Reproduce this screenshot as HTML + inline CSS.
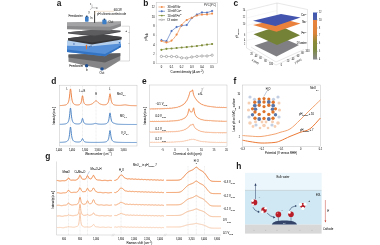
<!DOCTYPE html>
<html><head><meta charset="utf-8"><style>
html,body{margin:0;padding:0;background:#fff;width:380px;height:245px;overflow:hidden}
svg{display:block;will-change:transform}
text{font-family:"Liberation Sans",sans-serif}
</style></head><body>
<svg width="380" height="245" viewBox="0 0 380 245">
<rect width="380" height="245" fill="#fff"/>
<text x="56.8" y="6.2" font-size="8.4" fill="#1a1a1a"  text-anchor="start" font-weight="bold"  >a</text>
<text x="143.3" y="6.2" font-size="8.4" fill="#1a1a1a"  text-anchor="start" font-weight="bold"  >b</text>
<text x="233.6" y="6.2" font-size="8.4" fill="#1a1a1a"  text-anchor="start" font-weight="bold"  >c</text>
<text x="51.3" y="84.0" font-size="8.4" fill="#1a1a1a"  text-anchor="start" font-weight="bold"  >d</text>
<text x="142.0" y="84.0" font-size="8.4" fill="#1a1a1a"  text-anchor="start" font-weight="bold"  >e</text>
<text x="233.6" y="84.0" font-size="8.4" fill="#1a1a1a"  text-anchor="start" font-weight="bold"  >f</text>
<text x="45.3" y="158.8" font-size="8.4" fill="#1a1a1a"  text-anchor="start" font-weight="bold"  >g</text>
<text x="236.3" y="169.0" font-size="8.4" fill="#1a1a1a"  text-anchor="start" font-weight="bold"  >h</text>
<polygon points="68.50,54.60 120.30,53.30 120.30,60.30 105.00,69.80 68.50,61.80" fill="#858587" stroke="none" stroke-width="0.5" />
<polygon points="68.50,54.60 120.30,53.30 120.30,56.00 105.00,62.60 68.50,57.40" fill="#5e5e60" stroke="none" stroke-width="0.5" />
<polygon points="67.00,40.80 121.00,40.50 121.00,47.00 105.00,56.30 67.00,52.00" fill="#5590d8" stroke="none" stroke-width="0.5" />
<polygon points="67.00,40.80 121.00,40.50 121.00,43.50 92.00,46.20 67.00,45.80" fill="#b4cfee" stroke="none" stroke-width="0.5" />
<polygon points="67.00,49.60 105.00,54.00 121.00,45.60 121.00,47.00 105.00,56.30 67.00,52.00" fill="#3474c4" stroke="none" stroke-width="0.5" />
<rect x="85.9" y="46.0" width="1.1" height="3.3" fill="#e8742f"/>
<polygon points="85.2,46.2 87.7,46.2 86.45,44.5" fill="#e8742f"/>
<path d="M89,47 q1.5,-1.5 3,-1" stroke="#2d3b5e" stroke-width="0.5" fill="none"/>
<rect x="73.5" y="43.2" width="0.9" height="1.6" fill="#3559a8"/>
<circle cx="119.5" cy="42.8" r="0.8" fill="#2c62b0"/><circle cx="119.5" cy="46.8" r="0.8" fill="#2c62b0"/>
<polygon points="68.00,38.30 100.00,34.30 121.50,37.00 121.50,39.50 92.00,44.50 68.00,40.50" fill="#333336" stroke="none" stroke-width="0.5" />
<polygon points="68.00,38.30 100.00,34.30 121.50,37.00 121.50,38.20 92.00,42.50 68.00,39.40" fill="#444447" stroke="none" stroke-width="0.5" />
<polygon points="68.00,32.30 100.00,29.30 120.50,30.80 120.50,32.00 95.00,36.50 68.00,33.40" fill="#4a4a4d" stroke="none" stroke-width="0.5" />
<polygon points="68.00,32.30 100.00,29.30 120.50,30.80 120.50,31.30 95.00,35.40 68.00,33.00" fill="#5d5d60" stroke="none" stroke-width="0.5" />
<polygon points="67.00,22.50 121.00,21.50 121.00,26.20 110.00,30.40 67.00,29.20" fill="#8a8a8c" stroke="none" stroke-width="0.5" />
<polygon points="67.00,22.50 121.00,21.50 121.00,23.40 110.00,26.80 67.00,25.90" fill="#a3a3a5" stroke="none" stroke-width="0.5" />
<rect x="85" y="16.6" width="3.6" height="5.2" rx="0.7" fill="#3d7ec9"/>
<rect x="86.1" y="15.6" width="1.4" height="1.3" fill="#16304f"/>
<rect x="102.3" y="19.4" width="4.2" height="4.8" rx="0.7" fill="#3d7ec9"/>
<rect x="103.7" y="18.6" width="1.4" height="1.3" fill="#16304f"/>
<ellipse cx="86.6" cy="65.8" rx="1.7" ry="1.7" fill="#1f4f91"/>
<ellipse cx="102" cy="68.9" rx="1.8" ry="1.7" fill="#1f4f91"/>
<rect x="94" y="11" width="1.1" height="12" fill="#4a4a4a"/>
<line x1="95" y1="11.3" x2="114" y2="11.3" stroke="#e8cfb0" stroke-width="0.6" />
<line x1="95" y1="11.3" x2="95" y2="14.5" stroke="#e8cfb0" stroke-width="0.6" />
<line x1="92" y1="7.8" x2="92" y2="4.5" stroke="#444" stroke-width="0.3" />
<line x1="92" y1="7.8" x2="96" y2="7.8" stroke="#444" stroke-width="0.3" />
<line x1="92" y1="7.8" x2="90" y2="10" stroke="#444" stroke-width="0.3" />
<text x="90" y="5.5" font-size="2.4" fill="#3a3a3a" stroke="#3a3a3a" stroke-width="0.05" text-anchor="start" font-weight="normal" transform="matrix(1 0 0 1.28 0 -1.540)" >z</text>
<text x="96.3" y="8.8" font-size="2.4" fill="#3a3a3a" stroke="#3a3a3a" stroke-width="0.05" text-anchor="start" font-weight="normal" transform="matrix(1 0 0 1.28 0 -2.464)" >x</text>
<text x="88.4" y="13.4" font-size="2.4" fill="#3a3a3a" stroke="#3a3a3a" stroke-width="0.05" text-anchor="start" font-weight="normal" transform="matrix(1 0 0 1.28 0 -3.752)" >y</text>
<text x="113.8" y="11.2" font-size="2.9" fill="#3a3a3a" stroke="#3a3a3a" stroke-width="0.05" text-anchor="start" font-weight="normal" transform="matrix(1 0 0 1.28 0 -3.136)" >60CW</text>
<text x="97" y="15.4" font-size="2.9" fill="#3a3a3a" stroke="#3a3a3a" stroke-width="0.05" text-anchor="start" font-weight="normal" transform="matrix(1 0 0 1.28 0 -4.312)" >pH ultramicroelectrode</text>
<text x="68.5" y="17.1" font-size="3.0" fill="#3a3a3a" stroke="#3a3a3a" stroke-width="0.05" text-anchor="start" font-weight="normal" transform="matrix(1 0 0 1.28 0 -4.788)" >Feedwater</text>
<text x="108.5" y="23.1" font-size="3.0" fill="#3a3a3a" stroke="#3a3a3a" stroke-width="0.05" text-anchor="start" font-weight="normal" transform="matrix(1 0 0 1.28 0 -6.468)" >Out</text>
<text x="69.2" y="67.3" font-size="3.0" fill="#3a3a3a" stroke="#3a3a3a" stroke-width="0.05" text-anchor="start" font-weight="normal" transform="matrix(1 0 0 1.28 0 -18.844)" >Feedwater</text>
<text x="99.5" y="74.0" font-size="3.0" fill="#3a3a3a" stroke="#3a3a3a" stroke-width="0.05" text-anchor="start" font-weight="normal" transform="matrix(1 0 0 1.28 0 -20.720)" >Out</text>
<text x="85.9" y="71.5" font-size="2.6" fill="#3a3a3a" stroke="#3a3a3a" stroke-width="0.05" text-anchor="start" font-weight="normal" transform="matrix(1 0 0 1.28 0 -20.020)" >In</text>
<text x="90.2" y="19.5" font-size="2.6" fill="#3a3a3a" stroke="#3a3a3a" stroke-width="0.05" text-anchor="start" font-weight="normal" transform="matrix(1 0 0 1.28 0 -5.460)" >In</text>
<polyline points="121.50,26.20 129.50,26.20 129.50,61.00 116.50,61.00" fill="none" stroke="#9a9a9a" stroke-width="0.35" stroke-linejoin="round" />
<text x="125.5" y="32.2" font-size="2.8" fill="#3a3a3a" stroke="#3a3a3a" stroke-width="0.05" text-anchor="start" font-weight="normal" transform="matrix(1 0 0 1.28 0 -9.016)" >+</text>
<text x="128.3" y="34.3" font-size="2.4" fill="#3a3a3a" stroke="#3a3a3a" stroke-width="0.05" text-anchor="start" font-weight="normal" transform="matrix(1 0 0 1.28 0 -9.604)" >−</text>
<text x="128.3" y="45.5" font-size="2.4" fill="#3a3a3a" stroke="#3a3a3a" stroke-width="0.05" text-anchor="start" font-weight="normal" transform="matrix(1 0 0 1.28 0 -12.740)" >−</text>
<rect x="156.2" y="2.6" width="61.400000000000006" height="60.699999999999996" fill="none" stroke="#c2c2c2" stroke-width="0.5"/>
<text x="154.6" y="64.4" font-size="2.6" fill="#3c3c3c" stroke="#3c3c3c" stroke-width="0.05" text-anchor="end" font-weight="normal" transform="matrix(1 0 0 1.28 0 -18.032)" >0</text>
<line x1="156.2" y1="63.5" x2="157.0" y2="63.5" stroke="#aaa" stroke-width="0.3" />
<text x="154.6" y="55.05" font-size="2.6" fill="#3c3c3c" stroke="#3c3c3c" stroke-width="0.05" text-anchor="end" font-weight="normal" transform="matrix(1 0 0 1.28 0 -15.414)" >2</text>
<line x1="156.2" y1="54.15" x2="157.0" y2="54.15" stroke="#aaa" stroke-width="0.3" />
<text x="154.6" y="45.699999999999996" font-size="2.6" fill="#3c3c3c" stroke="#3c3c3c" stroke-width="0.05" text-anchor="end" font-weight="normal" transform="matrix(1 0 0 1.28 0 -12.796)" >4</text>
<line x1="156.2" y1="44.8" x2="157.0" y2="44.8" stroke="#aaa" stroke-width="0.3" />
<text x="154.6" y="36.35" font-size="2.6" fill="#3c3c3c" stroke="#3c3c3c" stroke-width="0.05" text-anchor="end" font-weight="normal" transform="matrix(1 0 0 1.28 0 -10.178)" >6</text>
<line x1="156.2" y1="35.45" x2="157.0" y2="35.45" stroke="#aaa" stroke-width="0.3" />
<text x="154.6" y="27.0" font-size="2.6" fill="#3c3c3c" stroke="#3c3c3c" stroke-width="0.05" text-anchor="end" font-weight="normal" transform="matrix(1 0 0 1.28 0 -7.560)" >8</text>
<line x1="156.2" y1="26.1" x2="157.0" y2="26.1" stroke="#aaa" stroke-width="0.3" />
<text x="154.6" y="17.65" font-size="2.6" fill="#3c3c3c" stroke="#3c3c3c" stroke-width="0.05" text-anchor="end" font-weight="normal" transform="matrix(1 0 0 1.28 0 -4.942)" >10</text>
<line x1="156.2" y1="16.75" x2="157.0" y2="16.75" stroke="#aaa" stroke-width="0.3" />
<text x="154.6" y="8.300000000000006" font-size="2.6" fill="#3c3c3c" stroke="#3c3c3c" stroke-width="0.05" text-anchor="end" font-weight="normal" transform="matrix(1 0 0 1.28 0 -2.324)" >12</text>
<line x1="156.2" y1="7.400000000000006" x2="157.0" y2="7.400000000000006" stroke="#aaa" stroke-width="0.3" />
<text x="161.4" y="68.4" font-size="2.6" fill="#3c3c3c" stroke="#3c3c3c" stroke-width="0.05" text-anchor="middle" font-weight="normal" transform="matrix(1 0 0 1.28 0 -19.152)" >0</text>
<text x="171.54000000000002" y="68.4" font-size="2.6" fill="#3c3c3c" stroke="#3c3c3c" stroke-width="0.05" text-anchor="middle" font-weight="normal" transform="matrix(1 0 0 1.28 0 -19.152)" >0.1</text>
<text x="181.68" y="68.4" font-size="2.6" fill="#3c3c3c" stroke="#3c3c3c" stroke-width="0.05" text-anchor="middle" font-weight="normal" transform="matrix(1 0 0 1.28 0 -19.152)" >0.2</text>
<text x="191.82" y="68.4" font-size="2.6" fill="#3c3c3c" stroke="#3c3c3c" stroke-width="0.05" text-anchor="middle" font-weight="normal" transform="matrix(1 0 0 1.28 0 -19.152)" >0.3</text>
<text x="201.96" y="68.4" font-size="2.6" fill="#3c3c3c" stroke="#3c3c3c" stroke-width="0.05" text-anchor="middle" font-weight="normal" transform="matrix(1 0 0 1.28 0 -19.152)" >0.4</text>
<text x="212.10000000000002" y="68.4" font-size="2.6" fill="#3c3c3c" stroke="#3c3c3c" stroke-width="0.05" text-anchor="middle" font-weight="normal" transform="matrix(1 0 0 1.28 0 -19.152)" >0.5</text>
<text x="187" y="72.8" font-size="3.1" fill="#2e2e2e" stroke="#2e2e2e" stroke-width="0.05" text-anchor="middle" font-weight="normal" transform="matrix(1 0 0 1.28 0 -20.384)" >Current density (A cm<tspan dy="-1" font-size="2.1">−2</tspan><tspan dy="1">)</tspan></text>
<text x="147" y="37" font-size="2.9" fill="#2e2e2e" stroke="#2e2e2e" stroke-width="0.05" text-anchor="middle" font-weight="normal"  transform="rotate(-90 147 37) matrix(1 0 0 1.28 0 -10.360)">pH<tspan dy="0.8" font-size="2">bulk</tspan></text>
<polyline points="161.40,49.80 166.47,48.80 171.54,48.50 176.61,48.00 181.68,47.50 186.75,47.10 191.82,46.50 196.89,46.00 201.96,45.30 207.03,44.60 212.10,44.00" fill="none" stroke="#7d8b37" stroke-width="0.6" stroke-linejoin="round" />
<polyline points="161.40,56.40 166.47,56.50 171.54,56.50 176.61,56.60 181.68,57.80 186.75,58.00 191.82,57.00 196.89,56.40 201.96,56.00 207.03,56.00 212.10,55.20" fill="none" stroke="#808080" stroke-width="0.45" stroke-linejoin="round" />
<polyline points="161.40,40.20 166.47,41.20 171.54,31.00 176.61,27.00 181.68,25.60 186.75,25.00 191.82,18.00 196.89,14.60 201.96,12.40 207.03,12.60 212.10,11.00" fill="none" stroke="#4f72c0" stroke-width="0.65" stroke-linejoin="round" />
<path d="M161.4,41 C162.25,41.23 164.78,42.47 166.47,42.4 C168.16,42.33 169.85,41.90 171.54,40.6 C173.23,39.30 174.92,37.20 176.61,34.6 C178.30,32.00 179.99,27.43 181.68,25 C183.37,22.57 185.06,21.20 186.75,20 C188.44,18.80 190.13,18.55 191.82,17.8 C193.51,17.05 195.20,16.03 196.89,15.5 C198.58,14.97 200.27,14.78 201.96,14.6 C203.65,14.42 205.34,14.57 207.03,14.4 C208.72,14.23 211.25,13.73 212.1,13.6" fill="none" stroke="#ef8a47" stroke-width="0.7"/>
<circle cx="161.40" cy="49.80" r="1.1" fill="#7d8b37"/>
<circle cx="166.47" cy="48.80" r="1.1" fill="#7d8b37"/>
<circle cx="171.54" cy="48.50" r="1.1" fill="#7d8b37"/>
<circle cx="176.61" cy="48.00" r="1.1" fill="#7d8b37"/>
<circle cx="181.68" cy="47.50" r="1.1" fill="#7d8b37"/>
<circle cx="186.75" cy="47.10" r="1.1" fill="#7d8b37"/>
<circle cx="191.82" cy="46.50" r="1.1" fill="#7d8b37"/>
<circle cx="196.89" cy="46.00" r="1.1" fill="#7d8b37"/>
<circle cx="201.96" cy="45.30" r="1.1" fill="#7d8b37"/>
<circle cx="207.03" cy="44.60" r="1.1" fill="#7d8b37"/>
<circle cx="212.10" cy="44.00" r="1.1" fill="#7d8b37"/>
<circle cx="161.40" cy="56.40" r="1.15" fill="#fff" stroke="#707070" stroke-width="0.5"/>
<circle cx="166.47" cy="56.50" r="1.15" fill="#fff" stroke="#707070" stroke-width="0.5"/>
<circle cx="171.54" cy="56.50" r="1.15" fill="#fff" stroke="#707070" stroke-width="0.5"/>
<circle cx="176.61" cy="56.60" r="1.15" fill="#fff" stroke="#707070" stroke-width="0.5"/>
<circle cx="181.68" cy="57.80" r="1.15" fill="#fff" stroke="#707070" stroke-width="0.5"/>
<circle cx="186.75" cy="58.00" r="1.15" fill="#fff" stroke="#707070" stroke-width="0.5"/>
<circle cx="191.82" cy="57.00" r="1.15" fill="#fff" stroke="#707070" stroke-width="0.5"/>
<circle cx="196.89" cy="56.40" r="1.15" fill="#fff" stroke="#707070" stroke-width="0.5"/>
<circle cx="201.96" cy="56.00" r="1.15" fill="#fff" stroke="#707070" stroke-width="0.5"/>
<circle cx="207.03" cy="56.00" r="1.15" fill="#fff" stroke="#707070" stroke-width="0.5"/>
<circle cx="212.10" cy="55.20" r="1.15" fill="#fff" stroke="#707070" stroke-width="0.5"/>
<rect x="160.45" y="39.25" width="1.9" height="1.9" fill="#4f72c0" transform="rotate(45 161.40 40.20)"/>
<rect x="165.52" y="40.25" width="1.9" height="1.9" fill="#4f72c0" transform="rotate(45 166.47 41.20)"/>
<rect x="170.59" y="30.05" width="1.9" height="1.9" fill="#4f72c0" transform="rotate(45 171.54 31.00)"/>
<rect x="175.66" y="26.05" width="1.9" height="1.9" fill="#4f72c0" transform="rotate(45 176.61 27.00)"/>
<rect x="180.73" y="24.65" width="1.9" height="1.9" fill="#4f72c0" transform="rotate(45 181.68 25.60)"/>
<rect x="185.80" y="24.05" width="1.9" height="1.9" fill="#4f72c0" transform="rotate(45 186.75 25.00)"/>
<rect x="190.87" y="17.05" width="1.9" height="1.9" fill="#4f72c0" transform="rotate(45 191.82 18.00)"/>
<rect x="195.94" y="13.65" width="1.9" height="1.9" fill="#4f72c0" transform="rotate(45 196.89 14.60)"/>
<rect x="201.01" y="11.45" width="1.9" height="1.9" fill="#4f72c0" transform="rotate(45 201.96 12.40)"/>
<rect x="206.08" y="11.65" width="1.9" height="1.9" fill="#4f72c0" transform="rotate(45 207.03 12.60)"/>
<rect x="211.15" y="10.05" width="1.9" height="1.9" fill="#4f72c0" transform="rotate(45 212.10 11.00)"/>
<circle cx="161.40" cy="41.00" r="1.05" fill="#ef8a47"/>
<circle cx="166.47" cy="42.40" r="1.05" fill="#ef8a47"/>
<circle cx="171.54" cy="40.60" r="1.05" fill="#ef8a47"/>
<circle cx="176.61" cy="34.60" r="1.05" fill="#ef8a47"/>
<circle cx="181.68" cy="25.00" r="1.05" fill="#ef8a47"/>
<circle cx="186.75" cy="20.00" r="1.05" fill="#ef8a47"/>
<circle cx="191.82" cy="17.80" r="1.05" fill="#ef8a47"/>
<circle cx="196.89" cy="15.50" r="1.05" fill="#ef8a47"/>
<circle cx="201.96" cy="14.60" r="1.05" fill="#ef8a47"/>
<circle cx="207.03" cy="14.40" r="1.05" fill="#ef8a47"/>
<circle cx="212.10" cy="13.60" r="1.05" fill="#ef8a47"/>
<line x1="158.5" y1="7.0" x2="165" y2="7.0" stroke="#ef8a47" stroke-width="0.65" />
<circle cx="161.8" cy="7.0" r="0.9" fill="#ef8a47"/>
<text x="167.5" y="8.0" font-size="2.75" fill="#3c3c3c" stroke="#3c3c3c" stroke-width="0.05" text-anchor="start" font-weight="normal" transform="matrix(1 0 0 1.28 0 -2.240)" >30 mM Na<tspan dy="-1" font-size="1.9">+</tspan></text>
<line x1="158.5" y1="11.27" x2="165" y2="11.27" stroke="#4f72c0" stroke-width="0.65" />
<rect x="160.95000000000002" y="10.42" width="1.7" height="1.7" fill="#4f72c0" transform="rotate(45 161.8 11.27)"/>
<text x="167.5" y="12.27" font-size="2.75" fill="#3c3c3c" stroke="#3c3c3c" stroke-width="0.05" text-anchor="start" font-weight="normal" transform="matrix(1 0 0 1.28 0 -3.436)" >10 mM Ca<tspan dy="-1" font-size="1.9">2+</tspan></text>
<line x1="158.5" y1="15.54" x2="165" y2="15.54" stroke="#7d8b37" stroke-width="0.65" />
<circle cx="161.8" cy="15.54" r="0.9" fill="#7d8b37"/>
<text x="167.5" y="16.54" font-size="2.75" fill="#3c3c3c" stroke="#3c3c3c" stroke-width="0.05" text-anchor="start" font-weight="normal" transform="matrix(1 0 0 1.28 0 -4.631)" >10 mM Fe<tspan dy="-1" font-size="1.9">3+</tspan></text>
<line x1="158.5" y1="19.81" x2="165" y2="19.81" stroke="#808080" stroke-width="0.65" />
<circle cx="161.8" cy="19.81" r="0.85" fill="#fff" stroke="#808080" stroke-width="0.4"/>
<text x="167.5" y="20.81" font-size="2.75" fill="#3c3c3c" stroke="#3c3c3c" stroke-width="0.05" text-anchor="start" font-weight="normal" transform="matrix(1 0 0 1.28 0 -5.827)" >DI water</text>
<text x="216.2" y="6.0" font-size="2.8" fill="#4a4a4a" stroke="#4a4a4a" stroke-width="0.05" text-anchor="end" font-weight="normal" transform="matrix(1 0 0 1.28 0 -1.680)" >PVC(3°C)</text>
<g stroke="#bdbdbd" stroke-width="0.35" fill="none">
<polyline points="246.5,10.5 277,3 307.5,9.5"/>
<line x1="277" y1="3" x2="277" y2="38"/>
<line x1="246.5" y1="10.5" x2="246.5" y2="48"/>
<line x1="307.5" y1="9.5" x2="307.5" y2="50.5"/>
<polyline points="246.5,48 276,65 307.5,50.5"/>
<polyline points="251,47 276,62 304,49.5"/>
<line x1="246.5" y1="18.0" x2="277" y2="10.5" stroke="#e6e6e6"/>
<line x1="246.5" y1="25.5" x2="277" y2="18.0" stroke="#e6e6e6"/>
<line x1="246.5" y1="33.0" x2="277" y2="25.5" stroke="#e6e6e6"/>
<line x1="246.5" y1="40.5" x2="277" y2="33.0" stroke="#e6e6e6"/>
</g>
<polygon points="254.50,45.50 280.00,37.00 299.00,45.00 276.50,56.50" fill="#808084" stroke="none" stroke-width="0.5" />
<polygon points="253.50,34.20 279.40,25.50 300.00,35.20 277.00,45.00" fill="#738236" stroke="none" stroke-width="0.5" />
<polygon points="253.00,25.00 281.00,18.50 300.50,23.50 276.50,31.80" fill="#ea823d" stroke="none" stroke-width="0.5" />
<polygon points="253.00,20.80 281.00,14.00 300.50,17.50 275.50,26.00" fill="#4254ae" stroke="none" stroke-width="0.5" />
<text x="306.5" y="16.3" font-size="2.6" fill="#2e2e2e" stroke="#2e2e2e" stroke-width="0.05" text-anchor="end" font-weight="normal" transform="matrix(1 0 0 1.28 0 -4.564)" >Ca<tspan dy="-1" font-size="1.8">2+</tspan></text>
<text x="306.5" y="23.3" font-size="2.6" fill="#2e2e2e" stroke="#2e2e2e" stroke-width="0.05" text-anchor="end" font-weight="normal" transform="matrix(1 0 0 1.28 0 -6.524)" >Na<tspan dy="-1" font-size="1.8">+</tspan></text>
<text x="306.5" y="34.0" font-size="2.6" fill="#2e2e2e" stroke="#2e2e2e" stroke-width="0.05" text-anchor="end" font-weight="normal" transform="matrix(1 0 0 1.28 0 -9.520)" >Fe<tspan dy="-1" font-size="1.8">3+</tspan></text>
<text x="306.5" y="44.3" font-size="2.6" fill="#2e2e2e" stroke="#2e2e2e" stroke-width="0.05" text-anchor="end" font-weight="normal" transform="matrix(1 0 0 1.28 0 -12.404)" >DI water</text>
<text x="245.3" y="10.8" font-size="2.2" fill="#555" stroke="#555" stroke-width="0.05" text-anchor="end" font-weight="normal" transform="matrix(1 0 0 1.28 0 -3.024)" >14</text>
<text x="245.3" y="18.2" font-size="2.2" fill="#555" stroke="#555" stroke-width="0.05" text-anchor="end" font-weight="normal" transform="matrix(1 0 0 1.28 0 -5.096)" >12</text>
<text x="245.3" y="24.8" font-size="2.2" fill="#555" stroke="#555" stroke-width="0.05" text-anchor="end" font-weight="normal" transform="matrix(1 0 0 1.28 0 -6.944)" >10</text>
<text x="245.3" y="36.199999999999996" font-size="2.2" fill="#555" stroke="#555" stroke-width="0.05" text-anchor="end" font-weight="normal" transform="matrix(1 0 0 1.28 0 -10.136)" >6</text>
<text x="245.3" y="41.099999999999994" font-size="2.2" fill="#555" stroke="#555" stroke-width="0.05" text-anchor="end" font-weight="normal" transform="matrix(1 0 0 1.28 0 -11.508)" >4</text>
<text x="245.3" y="45.0" font-size="2.2" fill="#555" stroke="#555" stroke-width="0.05" text-anchor="end" font-weight="normal" transform="matrix(1 0 0 1.28 0 -12.600)" >2</text>
<text x="238.4" y="33.5" font-size="2.6" fill="#3c3c3c" stroke="#3c3c3c" stroke-width="0.05" text-anchor="middle" font-weight="normal"  transform="rotate(-90 238.4 33.5) matrix(1 0 0 1.28 0 -9.380)">pH<tspan dy="0.8" font-size="1.9">surface</tspan></text>
<text x="251.5" y="54.6" font-size="2.3" fill="#555" stroke="#555" stroke-width="0.05" text-anchor="middle" font-weight="normal" transform="matrix(1 0 0 1.28 0 -15.288)" >20</text>
<text x="256" y="57.1" font-size="2.3" fill="#555" stroke="#555" stroke-width="0.05" text-anchor="middle" font-weight="normal" transform="matrix(1 0 0 1.28 0 -15.988)" >40</text>
<text x="260.5" y="59.4" font-size="2.3" fill="#555" stroke="#555" stroke-width="0.05" text-anchor="middle" font-weight="normal" transform="matrix(1 0 0 1.28 0 -16.632)" >60</text>
<text x="265.5" y="62.4" font-size="2.3" fill="#555" stroke="#555" stroke-width="0.05" text-anchor="middle" font-weight="normal" transform="matrix(1 0 0 1.28 0 -17.472)" >80</text>
<text x="271" y="65.1" font-size="2.3" fill="#555" stroke="#555" stroke-width="0.05" text-anchor="middle" font-weight="normal" transform="matrix(1 0 0 1.28 0 -18.228)" >100</text>
<text x="281.5" y="65.6" font-size="2.3" fill="#555" stroke="#555" stroke-width="0.05" text-anchor="middle" font-weight="normal" transform="matrix(1 0 0 1.28 0 -18.368)" >0</text>
<text x="288" y="62.4" font-size="2.3" fill="#555" stroke="#555" stroke-width="0.05" text-anchor="middle" font-weight="normal" transform="matrix(1 0 0 1.28 0 -17.472)" >20</text>
<text x="293" y="59.6" font-size="2.3" fill="#555" stroke="#555" stroke-width="0.05" text-anchor="middle" font-weight="normal" transform="matrix(1 0 0 1.28 0 -16.688)" >40</text>
<text x="298" y="56.6" font-size="2.3" fill="#555" stroke="#555" stroke-width="0.05" text-anchor="middle" font-weight="normal" transform="matrix(1 0 0 1.28 0 -15.848)" >60</text>
<text x="302.5" y="54.4" font-size="2.3" fill="#555" stroke="#555" stroke-width="0.05" text-anchor="middle" font-weight="normal" transform="matrix(1 0 0 1.28 0 -15.232)" >80</text>
<text x="307.5" y="52.1" font-size="2.3" fill="#555" stroke="#555" stroke-width="0.05" text-anchor="middle" font-weight="normal" transform="matrix(1 0 0 1.28 0 -14.588)" >100</text>
<text x="255" y="62.5" font-size="2.4" fill="#3c3c3c" stroke="#3c3c3c" stroke-width="0.05" text-anchor="middle" font-weight="normal"  transform="rotate(33 255 62.5) matrix(1 0 0 1.28 0 -17.500)">x (mm)</text>
<text x="298.5" y="62" font-size="2.4" fill="#3c3c3c" stroke="#3c3c3c" stroke-width="0.05" text-anchor="middle" font-weight="normal"  transform="rotate(-30 298.5 62) matrix(1 0 0 1.28 0 -17.360)">y (mm)</text>
<defs><linearGradient id="cb" x1="0" y1="0" x2="0" y2="1"><stop offset="0" stop-color="#3e56b0"/><stop offset="0.15" stop-color="#4b5ea9"/><stop offset="0.16" stop-color="#e9843e"/><stop offset="0.45" stop-color="#dc8339"/><stop offset="0.62" stop-color="#8c8a36"/><stop offset="0.78" stop-color="#7c8a3e"/><stop offset="1" stop-color="#8a8a92"/></linearGradient></defs>
<rect x="313" y="12.5" width="4" height="47" fill="url(#cb)"/>
<text x="319" y="13.3" font-size="2.1" fill="#4a4a4a" stroke="#4a4a4a" stroke-width="0.05" text-anchor="start" font-weight="normal" transform="matrix(1 0 0 1.28 0 -3.724)" >12</text>
<line x1="317" y1="12.5" x2="318" y2="12.5" stroke="#4a4a4a" stroke-width="0.25" />
<text x="319" y="20.8" font-size="2.1" fill="#4a4a4a" stroke="#4a4a4a" stroke-width="0.05" text-anchor="start" font-weight="normal" transform="matrix(1 0 0 1.28 0 -5.824)" >10</text>
<line x1="317" y1="20" x2="318" y2="20" stroke="#4a4a4a" stroke-width="0.25" />
<text x="319" y="28.8" font-size="2.1" fill="#4a4a4a" stroke="#4a4a4a" stroke-width="0.05" text-anchor="start" font-weight="normal" transform="matrix(1 0 0 1.28 0 -8.064)" >8</text>
<line x1="317" y1="28" x2="318" y2="28" stroke="#4a4a4a" stroke-width="0.25" />
<text x="319" y="36.3" font-size="2.1" fill="#4a4a4a" stroke="#4a4a4a" stroke-width="0.05" text-anchor="start" font-weight="normal" transform="matrix(1 0 0 1.28 0 -10.164)" >7</text>
<line x1="317" y1="35.5" x2="318" y2="35.5" stroke="#4a4a4a" stroke-width="0.25" />
<text x="319" y="44.3" font-size="2.1" fill="#4a4a4a" stroke="#4a4a4a" stroke-width="0.05" text-anchor="start" font-weight="normal" transform="matrix(1 0 0 1.28 0 -12.404)" >6</text>
<line x1="317" y1="43.5" x2="318" y2="43.5" stroke="#4a4a4a" stroke-width="0.25" />
<text x="319" y="52.099999999999994" font-size="2.1" fill="#4a4a4a" stroke="#4a4a4a" stroke-width="0.05" text-anchor="start" font-weight="normal" transform="matrix(1 0 0 1.28 0 -14.588)" >5</text>
<line x1="317" y1="51.3" x2="318" y2="51.3" stroke="#4a4a4a" stroke-width="0.25" />
<text x="319" y="59.8" font-size="2.1" fill="#4a4a4a" stroke="#4a4a4a" stroke-width="0.05" text-anchor="start" font-weight="normal" transform="matrix(1 0 0 1.28 0 -16.744)" >4</text>
<line x1="317" y1="59" x2="318" y2="59" stroke="#4a4a4a" stroke-width="0.25" />
<rect x="59.5" y="85.2" width="77.5" height="60.8" fill="none" stroke="#c2c2c2" stroke-width="0.5"/>
<line x1="70.5" y1="86.2" x2="70.5" y2="146" stroke="#c8c8c8" stroke-width="0.35" stroke-dasharray="0.8,0.6"/>
<line x1="82.5" y1="86.2" x2="82.5" y2="146" stroke="#c8c8c8" stroke-width="0.35" stroke-dasharray="0.8,0.6"/>
<line x1="96" y1="86.2" x2="96" y2="146" stroke="#c8c8c8" stroke-width="0.35" stroke-dasharray="0.8,0.6"/>
<line x1="110" y1="86.2" x2="110" y2="146" stroke="#c8c8c8" stroke-width="0.35" stroke-dasharray="0.8,0.6"/>
<polyline points="59.80,105.57 60.06,105.56 60.31,105.55 60.57,105.54 60.83,105.53 61.08,105.51 61.34,105.50 61.59,105.49 61.85,105.47 62.11,105.45 62.36,105.43 62.62,105.41 62.88,105.39 63.13,105.36 63.39,105.34 63.64,105.31 63.90,105.27 64.16,105.23 64.41,105.19 64.67,105.14 64.93,105.09 65.18,105.03 65.44,104.96 65.70,104.88 65.95,104.79 66.21,104.68 66.46,104.55 66.72,104.40 66.98,104.21 67.23,103.99 67.49,103.72 67.75,103.39 68.00,102.97 68.26,102.43 68.52,101.74 68.77,100.85 69.03,99.67 69.28,98.12 69.54,96.14 69.80,93.75 70.05,91.25 70.31,89.36 70.57,88.93 70.82,90.19 71.08,92.50 71.33,95.00 71.59,97.18 71.85,98.93 72.10,100.27 72.36,101.28 72.62,102.06 72.87,102.65 73.13,103.11 73.39,103.48 73.64,103.77 73.90,104.00 74.15,104.19 74.41,104.34 74.67,104.47 74.92,104.58 75.18,104.66 75.44,104.73 75.69,104.79 75.95,104.84 76.21,104.88 76.46,104.91 76.72,104.93 76.97,104.94 77.23,104.95 77.49,104.95 77.74,104.94 78.00,104.92 78.26,104.90 78.51,104.86 78.77,104.81 79.03,104.75 79.28,104.66 79.54,104.55 79.79,104.41 80.05,104.23 80.31,103.99 80.56,103.67 80.82,103.23 81.08,102.62 81.33,101.76 81.59,100.58 81.84,99.01 82.10,97.22 82.36,95.85 82.61,95.76 82.87,97.02 83.13,98.80 83.38,100.40 83.64,101.62 83.90,102.51 84.15,103.13 84.41,103.58 84.66,103.91 84.92,104.16 85.18,104.34 85.43,104.48 85.69,104.59 85.95,104.67 86.20,104.73 86.46,104.78 86.72,104.81 86.97,104.83 87.23,104.85 87.48,104.86 87.74,104.86 88.00,104.85 88.25,104.84 88.51,104.82 88.77,104.80 89.02,104.77 89.28,104.74 89.53,104.70 89.79,104.65 90.05,104.60 90.30,104.53 90.56,104.47 90.82,104.39 91.07,104.30 91.33,104.20 91.59,104.09 91.84,103.97 92.10,103.84 92.35,103.69 92.61,103.52 92.87,103.33 93.12,103.13 93.38,102.91 93.64,102.68 93.89,102.43 94.15,102.17 94.41,101.90 94.66,101.64 94.92,101.40 95.17,101.18 95.43,101.01 95.69,100.90 95.94,100.85 96.20,100.87 96.46,100.95 96.71,101.10 96.97,101.29 97.22,101.52 97.48,101.78 97.74,102.04 97.99,102.30 98.25,102.56 98.51,102.80 98.76,103.02 99.02,103.23 99.28,103.42 99.53,103.60 99.79,103.75 100.04,103.89 100.30,104.02 100.56,104.13 100.81,104.23 101.07,104.32 101.33,104.40 101.58,104.47 101.84,104.53 102.09,104.59 102.35,104.63 102.61,104.67 102.86,104.70 103.12,104.73 103.38,104.75 103.63,104.76 103.89,104.77 104.15,104.77 104.40,104.77 104.66,104.75 104.91,104.73 105.17,104.70 105.43,104.66 105.68,104.61 105.94,104.54 106.20,104.46 106.45,104.35 106.71,104.21 106.97,104.05 107.22,103.83 107.48,103.56 107.73,103.20 107.99,102.75 108.25,102.14 108.50,101.35 108.76,100.30 109.02,98.95 109.27,97.31 109.53,95.55 109.78,94.16 110.04,93.75 110.30,94.55 110.55,96.14 110.81,97.91 111.07,99.48 111.32,100.74 111.58,101.71 111.84,102.46 112.09,103.02 112.35,103.46 112.60,103.80 112.86,104.07 113.12,104.28 113.37,104.46 113.63,104.60 113.89,104.72 114.14,104.82 114.40,104.90 114.66,104.97 114.91,105.04 115.17,105.09 115.42,105.13 115.68,105.17 115.94,105.21 116.19,105.24 116.45,105.26 116.71,105.28 116.96,105.30 117.22,105.32 117.47,105.33 117.73,105.34 117.99,105.35 118.24,105.36 118.50,105.37 118.76,105.37 119.01,105.37 119.27,105.37 119.53,105.37 119.78,105.36 120.04,105.36 120.29,105.35 120.55,105.34 120.81,105.33 121.06,105.31 121.32,105.29 121.58,105.27 121.83,105.24 122.09,105.22 122.35,105.18 122.60,105.15 122.86,105.11 123.11,105.07 123.37,105.03 123.63,104.99 123.88,104.96 124.14,104.92 124.40,104.90 124.65,104.88 124.91,104.87 125.16,104.88 125.42,104.90 125.68,104.92 125.93,104.96 126.19,105.00 126.45,105.04 126.70,105.09 126.96,105.13 127.22,105.18 127.47,105.22 127.73,105.26 127.98,105.30 128.24,105.34 128.50,105.37 128.75,105.40 129.01,105.42 129.27,105.45 129.52,105.47 129.78,105.49 130.04,105.51 130.29,105.53 130.55,105.54 130.80,105.55 131.06,105.57 131.32,105.58 131.57,105.59 131.83,105.60 132.09,105.61 132.34,105.62 132.60,105.62 132.86,105.63 133.11,105.64 133.37,105.64 133.62,105.65 133.88,105.66 134.14,105.66 134.39,105.66 134.65,105.67 134.91,105.67 135.16,105.68 135.42,105.68 135.67,105.68 135.93,105.69 136.19,105.69 136.44,105.69 136.70,105.70" fill="none" stroke="#ee8446" stroke-width="1.0" stroke-linejoin="round" />
<polyline points="59.80,124.34 60.06,124.33 60.31,124.32 60.57,124.32 60.83,124.31 61.08,124.30 61.34,124.29 61.59,124.27 61.85,124.26 62.11,124.25 62.36,124.23 62.62,124.22 62.88,124.20 63.13,124.18 63.39,124.16 63.64,124.13 63.90,124.11 64.16,124.07 64.41,124.04 64.67,124.00 64.93,123.96 65.18,123.91 65.44,123.85 65.70,123.79 65.95,123.71 66.21,123.62 66.46,123.51 66.72,123.39 66.98,123.24 67.23,123.05 67.49,122.83 67.75,122.54 68.00,122.18 68.26,121.72 68.52,121.12 68.77,120.32 69.03,119.25 69.28,117.80 69.54,115.86 69.80,113.41 70.05,110.70 70.31,108.53 70.57,108.02 70.82,109.50 71.08,112.09 71.33,114.72 71.59,116.91 71.85,118.58 72.10,119.82 72.36,120.74 72.62,121.42 72.87,121.94 73.13,122.34 73.39,122.65 73.64,122.90 73.90,123.10 74.15,123.26 74.41,123.39 74.67,123.50 74.92,123.59 75.18,123.67 75.44,123.73 75.69,123.79 75.95,123.83 76.21,123.87 76.46,123.90 76.72,123.92 76.97,123.94 77.23,123.95 77.49,123.96 77.74,123.96 78.00,123.96 78.26,123.95 78.51,123.93 78.77,123.90 79.03,123.87 79.28,123.82 79.54,123.76 79.79,123.68 80.05,123.58 80.31,123.43 80.56,123.24 80.82,122.98 81.08,122.61 81.33,122.09 81.59,121.37 81.84,120.41 82.10,119.32 82.36,118.49 82.61,118.44 82.87,119.22 83.13,120.31 83.38,121.30 83.64,122.05 83.90,122.60 84.15,122.99 84.41,123.27 84.66,123.48 84.92,123.64 85.18,123.76 85.43,123.85 85.69,123.92 85.95,123.98 86.20,124.03 86.46,124.07 86.72,124.10 86.97,124.13 87.23,124.15 87.48,124.17 87.74,124.18 88.00,124.20 88.25,124.21 88.51,124.21 88.77,124.22 89.02,124.22 89.28,124.23 89.53,124.23 89.79,124.22 90.05,124.22 90.30,124.22 90.56,124.21 90.82,124.20 91.07,124.19 91.33,124.18 91.59,124.16 91.84,124.14 92.10,124.11 92.35,124.09 92.61,124.05 92.87,124.01 93.12,123.96 93.38,123.91 93.64,123.85 93.89,123.78 94.15,123.70 94.41,123.61 94.66,123.53 94.92,123.46 95.17,123.41 95.43,123.38 95.69,123.39 95.94,123.43 96.20,123.49 96.46,123.57 96.71,123.65 96.97,123.73 97.22,123.80 97.48,123.87 97.74,123.93 97.99,123.98 98.25,124.02 98.51,124.06 98.76,124.09 99.02,124.11 99.28,124.13 99.53,124.15 99.79,124.17 100.04,124.18 100.30,124.18 100.56,124.19 100.81,124.20 101.07,124.20 101.33,124.20 101.58,124.20 101.84,124.19 102.09,124.19 102.35,124.18 102.61,124.17 102.86,124.16 103.12,124.15 103.38,124.14 103.63,124.12 103.89,124.10 104.15,124.07 104.40,124.05 104.66,124.01 104.91,123.98 105.17,123.93 105.43,123.88 105.68,123.82 105.94,123.75 106.20,123.66 106.45,123.56 106.71,123.43 106.97,123.28 107.22,123.08 107.48,122.84 107.73,122.52 107.99,122.11 108.25,121.57 108.50,120.84 108.76,119.85 109.02,118.53 109.27,116.85 109.53,114.95 109.78,113.36 110.04,112.86 110.30,113.77 110.55,115.52 110.81,117.36 111.07,118.90 111.32,120.07 111.58,120.93 111.84,121.56 112.09,122.02 112.35,122.35 112.60,122.59 112.86,122.77 113.12,122.90 113.37,123.00 113.63,123.08 113.89,123.16 114.14,123.24 114.40,123.33 114.66,123.43 114.91,123.52 115.17,123.61 115.42,123.70 115.68,123.78 115.94,123.85 116.19,123.91 116.45,123.97 116.71,124.02 116.96,124.06 117.22,124.10 117.47,124.13 117.73,124.16 117.99,124.18 118.24,124.21 118.50,124.23 118.76,124.24 119.01,124.26 119.27,124.27 119.53,124.29 119.78,124.30 120.04,124.31 120.29,124.32 120.55,124.33 120.81,124.34 121.06,124.35 121.32,124.35 121.58,124.36 121.83,124.37 122.09,124.37 122.35,124.38 122.60,124.38 122.86,124.39 123.11,124.39 123.37,124.40 123.63,124.40 123.88,124.40 124.14,124.41 124.40,124.41 124.65,124.41 124.91,124.42 125.16,124.42 125.42,124.42 125.68,124.42 125.93,124.43 126.19,124.43 126.45,124.43 126.70,124.43 126.96,124.43 127.22,124.44 127.47,124.44 127.73,124.44 127.98,124.44 128.24,124.44 128.50,124.44 128.75,124.45 129.01,124.45 129.27,124.45 129.52,124.45 129.78,124.45 130.04,124.45 130.29,124.45 130.55,124.45 130.80,124.46 131.06,124.46 131.32,124.46 131.57,124.46 131.83,124.46 132.09,124.46 132.34,124.46 132.60,124.46 132.86,124.46 133.11,124.46 133.37,124.46 133.62,124.46 133.88,124.47 134.14,124.47 134.39,124.47 134.65,124.47 134.91,124.47 135.16,124.47 135.42,124.47 135.67,124.47 135.93,124.47 136.19,124.47 136.44,124.47 136.70,124.47" fill="none" stroke="#4f86c6" stroke-width="1.0" stroke-linejoin="round" />
<polyline points="59.80,142.35 60.06,142.35 60.31,142.34 60.57,142.33 60.83,142.32 61.08,142.31 61.34,142.30 61.59,142.29 61.85,142.28 62.11,142.27 62.36,142.25 62.62,142.24 62.88,142.22 63.13,142.20 63.39,142.18 63.64,142.16 63.90,142.14 64.16,142.11 64.41,142.08 64.67,142.04 64.93,142.00 65.18,141.95 65.44,141.90 65.70,141.84 65.95,141.77 66.21,141.68 66.46,141.58 66.72,141.46 66.98,141.32 67.23,141.15 67.49,140.94 67.75,140.67 68.00,140.33 68.26,139.90 68.52,139.34 68.77,138.59 69.03,137.58 69.28,136.22 69.54,134.40 69.80,132.10 70.05,129.55 70.31,127.51 70.57,127.03 70.82,128.42 71.08,130.85 71.33,133.33 71.59,135.39 71.85,136.95 72.10,138.12 72.36,138.98 72.62,139.62 72.87,140.11 73.13,140.49 73.39,140.78 73.64,141.02 73.90,141.20 74.15,141.36 74.41,141.48 74.67,141.59 74.92,141.67 75.18,141.74 75.44,141.80 75.69,141.86 75.95,141.90 76.21,141.93 76.46,141.96 76.72,141.99 76.97,142.01 77.23,142.02 77.49,142.03 77.74,142.04 78.00,142.04 78.26,142.03 78.51,142.03 78.77,142.01 79.03,141.99 79.28,141.95 79.54,141.91 79.79,141.85 80.05,141.78 80.31,141.67 80.56,141.53 80.82,141.35 81.08,141.09 81.33,140.75 81.59,140.28 81.84,139.71 82.10,139.09 82.36,138.65 82.61,138.63 82.87,139.04 83.13,139.66 83.38,140.25 83.64,140.74 83.90,141.11 84.15,141.38 84.41,141.58 84.66,141.74 84.92,141.85 85.18,141.94 85.43,142.02 85.69,142.07 85.95,142.12 86.20,142.16 86.46,142.19 86.72,142.22 86.97,142.24 87.23,142.26 87.48,142.28 87.74,142.29 88.00,142.30 88.25,142.31 88.51,142.32 88.77,142.33 89.02,142.34 89.28,142.35 89.53,142.35 89.79,142.36 90.05,142.36 90.30,142.37 90.56,142.37 90.82,142.38 91.07,142.38 91.33,142.38 91.59,142.38 91.84,142.39 92.10,142.39 92.35,142.39 92.61,142.39 92.87,142.39 93.12,142.39 93.38,142.40 93.64,142.40 93.89,142.40 94.15,142.40 94.41,142.40 94.66,142.40 94.92,142.40 95.17,142.40 95.43,142.40 95.69,142.40 95.94,142.39 96.20,142.39 96.46,142.39 96.71,142.39 96.97,142.39 97.22,142.39 97.48,142.39 97.74,142.38 97.99,142.38 98.25,142.38 98.51,142.38 98.76,142.37 99.02,142.37 99.28,142.36 99.53,142.36 99.79,142.36 100.04,142.35 100.30,142.34 100.56,142.34 100.81,142.33 101.07,142.32 101.33,142.32 101.58,142.31 101.84,142.30 102.09,142.29 102.35,142.27 102.61,142.26 102.86,142.24 103.12,142.23 103.38,142.21 103.63,142.19 103.89,142.16 104.15,142.14 104.40,142.11 104.66,142.07 104.91,142.03 105.17,141.99 105.43,141.93 105.68,141.87 105.94,141.79 106.20,141.71 106.45,141.60 106.71,141.47 106.97,141.31 107.22,141.11 107.48,140.85 107.73,140.53 107.99,140.10 108.25,139.54 108.50,138.78 108.76,137.76 109.02,136.39 109.27,134.64 109.53,132.67 109.78,131.02 110.04,130.51 110.30,131.46 110.55,133.30 110.81,135.24 111.07,136.87 111.32,138.12 111.58,139.05 111.84,139.74 112.09,140.25 112.35,140.64 112.60,140.95 112.86,141.18 113.12,141.37 113.37,141.52 113.63,141.64 113.89,141.74 114.14,141.83 114.40,141.90 114.66,141.96 114.91,142.01 115.17,142.06 115.42,142.09 115.68,142.13 115.94,142.16 116.19,142.18 116.45,142.21 116.71,142.23 116.96,142.25 117.22,142.26 117.47,142.28 117.73,142.29 117.99,142.30 118.24,142.32 118.50,142.33 118.76,142.34 119.01,142.34 119.27,142.35 119.53,142.36 119.78,142.37 120.04,142.37 120.29,142.38 120.55,142.38 120.81,142.39 121.06,142.39 121.32,142.40 121.58,142.40 121.83,142.41 122.09,142.41 122.35,142.41 122.60,142.42 122.86,142.42 123.11,142.42 123.37,142.43 123.63,142.43 123.88,142.43 124.14,142.43 124.40,142.43 124.65,142.44 124.91,142.44 125.16,142.44 125.42,142.44 125.68,142.44 125.93,142.45 126.19,142.45 126.45,142.45 126.70,142.45 126.96,142.45 127.22,142.45 127.47,142.45 127.73,142.46 127.98,142.46 128.24,142.46 128.50,142.46 128.75,142.46 129.01,142.46 129.27,142.46 129.52,142.46 129.78,142.46 130.04,142.46 130.29,142.46 130.55,142.47 130.80,142.47 131.06,142.47 131.32,142.47 131.57,142.47 131.83,142.47 132.09,142.47 132.34,142.47 132.60,142.47 132.86,142.47 133.11,142.47 133.37,142.47 133.62,142.47 133.88,142.47 134.14,142.47 134.39,142.47 134.65,142.48 134.91,142.48 135.16,142.48 135.42,142.48 135.67,142.48 135.93,142.48 136.19,142.48 136.44,142.48 136.70,142.48" fill="none" stroke="#4f86c6" stroke-width="1.0" stroke-linejoin="round" />
<text x="67.2" y="90.0" font-size="2.6" fill="#333" stroke="#333" stroke-width="0.05" text-anchor="middle" font-weight="normal" transform="matrix(1 0 0 1.28 0 -25.200)" >L</text>
<text x="82.2" y="92.4" font-size="2.6" fill="#333" stroke="#333" stroke-width="0.05" text-anchor="middle" font-weight="normal" transform="matrix(1 0 0 1.28 0 -25.872)" >L + B</text>
<text x="96" y="95.0" font-size="2.6" fill="#333" stroke="#333" stroke-width="0.05" text-anchor="middle" font-weight="normal" transform="matrix(1 0 0 1.28 0 -26.600)" >B</text>
<text x="109.8" y="90.0" font-size="2.6" fill="#333" stroke="#333" stroke-width="0.05" text-anchor="middle" font-weight="normal" transform="matrix(1 0 0 1.28 0 -25.200)" >L</text>
<text x="117" y="95.0" font-size="2.7" fill="#2e2e2e" stroke="#2e2e2e" stroke-width="0.05" text-anchor="start" font-weight="normal" transform="matrix(1 0 0 1.28 0 -26.600)" >MnO<tspan dy="0.8" font-size="1.8">2-x</tspan></text>
<text x="120" y="117.3" font-size="2.7" fill="#2e2e2e" stroke="#2e2e2e" stroke-width="0.05" text-anchor="start" font-weight="normal" transform="matrix(1 0 0 1.28 0 -32.844)" >MO<tspan dy="0.8" font-size="1.8">2-x</tspan></text>
<text x="121" y="134.3" font-size="2.7" fill="#2e2e2e" stroke="#2e2e2e" stroke-width="0.05" text-anchor="start" font-weight="normal" transform="matrix(1 0 0 1.28 0 -37.604)" >V<tspan dy="0.8" font-size="1.8">2</tspan><tspan dy="-0.8">O</tspan><tspan dy="0.8" font-size="1.8">5-x</tspan></text>
<text x="59" y="150.7" font-size="2.5" fill="#3c3c3c" stroke="#3c3c3c" stroke-width="0.05" text-anchor="middle" font-weight="normal" transform="matrix(1 0 0 1.28 0 -42.196)" >1,400</text>
<text x="72" y="150.7" font-size="2.5" fill="#3c3c3c" stroke="#3c3c3c" stroke-width="0.05" text-anchor="middle" font-weight="normal" transform="matrix(1 0 0 1.28 0 -42.196)" >1,450</text>
<text x="85" y="150.7" font-size="2.5" fill="#3c3c3c" stroke="#3c3c3c" stroke-width="0.05" text-anchor="middle" font-weight="normal" transform="matrix(1 0 0 1.28 0 -42.196)" >1,500</text>
<text x="97.5" y="150.7" font-size="2.5" fill="#3c3c3c" stroke="#3c3c3c" stroke-width="0.05" text-anchor="middle" font-weight="normal" transform="matrix(1 0 0 1.28 0 -42.196)" >1,550</text>
<text x="110.5" y="150.7" font-size="2.5" fill="#3c3c3c" stroke="#3c3c3c" stroke-width="0.05" text-anchor="middle" font-weight="normal" transform="matrix(1 0 0 1.28 0 -42.196)" >1,600</text>
<text x="123.5" y="150.7" font-size="2.5" fill="#3c3c3c" stroke="#3c3c3c" stroke-width="0.05" text-anchor="middle" font-weight="normal" transform="matrix(1 0 0 1.28 0 -42.196)" >1,650</text>
<text x="98.3" y="154.6" font-size="3.0" fill="#2e2e2e" stroke="#2e2e2e" stroke-width="0.05" text-anchor="middle" font-weight="normal" transform="matrix(1 0 0 1.28 0 -43.288)" >Wavenumber (cm<tspan dy="-1" font-size="2">−1</tspan><tspan dy="1">)</tspan></text>
<text x="55.2" y="116" font-size="2.8" fill="#2e2e2e" stroke="#2e2e2e" stroke-width="0.05" text-anchor="middle" font-weight="normal"  transform="rotate(-90 55.2 116) matrix(1 0 0 1.28 0 -32.480)">Intensity (a.u.)</text>
<rect x="149.5" y="85" width="77.5" height="61.5" fill="none" stroke="#c2c2c2" stroke-width="0.5"/>
<polyline points="149.80,108.85 150.06,109.09 150.31,109.01 150.57,108.88 150.83,109.14 151.08,108.88 151.34,108.98 151.59,109.08 151.85,108.82 152.11,109.08 152.36,108.95 152.62,108.87 152.88,109.10 153.13,108.83 153.39,108.98 153.65,109.02 153.90,108.79 154.16,109.07 154.41,108.88 154.67,108.86 154.93,109.06 155.18,108.77 155.44,108.97 155.70,108.95 155.95,108.77 156.21,109.04 156.46,108.80 156.72,108.85 156.98,109.00 157.23,108.72 157.49,108.95 157.75,108.87 158.00,108.74 158.26,108.99 158.52,108.73 158.77,108.83 159.03,108.92 159.28,108.66 159.54,108.92 159.80,108.78 160.05,108.70 160.31,108.93 160.57,108.65 160.82,108.80 161.08,108.83 161.34,108.61 161.59,108.87 161.85,108.68 162.10,108.66 162.36,108.85 162.62,108.56 162.87,108.76 163.13,108.72 163.39,108.54 163.64,108.81 163.90,108.57 164.15,108.61 164.41,108.75 164.67,108.46 164.92,108.70 165.18,108.60 165.44,108.47 165.69,108.71 165.95,108.44 166.21,108.54 166.46,108.62 166.72,108.35 166.97,108.61 167.23,108.45 167.49,108.37 167.74,108.59 168.00,108.29 168.26,108.44 168.51,108.46 168.77,108.23 169.03,108.48 169.28,108.27 169.54,108.25 169.79,108.42 170.05,108.12 170.31,108.31 170.56,108.26 170.82,108.07 171.08,108.32 171.33,108.06 171.59,108.09 171.84,108.21 172.10,107.91 172.36,108.13 172.61,108.01 172.87,107.86 173.13,108.08 173.38,107.79 173.64,107.88 173.90,107.92 174.15,107.64 174.41,107.87 174.66,107.68 174.92,107.59 175.18,107.77 175.43,107.45 175.69,107.57 175.95,107.55 176.20,107.29 176.46,107.51 176.72,107.26 176.97,107.21 177.23,107.34 177.48,106.99 177.74,107.14 178.00,107.04 178.25,106.80 178.51,107.00 178.77,106.69 179.02,106.67 179.28,106.72 179.53,106.37 179.79,106.52 180.05,106.33 180.30,106.11 180.56,106.26 180.82,105.88 181.07,105.89 181.33,105.84 181.59,105.47 181.84,105.60 182.10,105.30 182.35,105.09 182.61,105.16 182.87,104.71 183.12,104.70 183.38,104.53 183.64,104.12 183.89,104.19 184.15,103.76 184.41,103.53 184.66,103.46 184.92,102.92 185.17,102.85 185.43,102.51 185.69,102.03 185.94,101.96 186.20,101.36 186.46,101.04 186.71,100.76 186.97,100.06 187.22,99.83 187.48,99.23 187.74,98.58 187.99,98.25 188.25,97.36 188.51,96.81 188.76,96.16 189.02,95.14 189.28,94.54 189.53,93.43 189.79,92.39 190.04,91.87 190.30,91.29 190.56,91.36 190.81,91.29 191.07,91.04 191.33,91.30 191.58,91.07 191.84,90.94 192.10,90.73 192.35,89.84 192.61,89.96 192.86,91.04 193.12,92.43 193.38,93.96 193.63,94.66 193.89,95.47 194.15,96.22 194.40,96.49 194.66,97.22 194.91,97.57 195.17,97.88 195.43,98.53 195.68,98.64 195.94,99.14 196.20,99.55 196.45,99.65 196.71,100.24 196.97,100.38 197.22,100.63 197.48,101.13 197.73,101.13 197.99,101.57 198.25,101.83 198.50,101.87 198.76,102.37 199.02,102.38 199.27,102.61 199.53,102.99 199.79,102.90 200.04,103.31 200.30,103.43 200.55,103.45 200.81,103.88 201.07,103.79 201.32,104.01 201.58,104.28 201.84,104.15 202.09,104.53 202.35,104.54 202.60,104.56 202.86,104.92 203.12,104.76 203.37,105.00 203.63,105.16 203.89,105.02 204.14,105.39 204.40,105.31 204.66,105.35 204.91,105.65 205.17,105.45 205.42,105.70 205.68,105.78 205.94,105.65 206.19,105.99 206.45,105.84 206.71,105.93 206.96,106.16 207.22,105.94 207.48,106.22 207.73,106.21 207.99,106.11 208.24,106.43 208.50,106.23 208.76,106.36 209.01,106.52 209.27,106.30 209.53,106.60 209.78,106.52 210.04,106.46 210.29,106.75 210.55,106.51 210.81,106.69 211.06,106.78 211.32,106.58 211.58,106.88 211.83,106.74 212.09,106.74 212.35,106.98 212.60,106.73 212.86,106.94 213.11,106.97 213.37,106.80 213.63,107.10 213.88,106.91 214.14,106.96 214.40,107.15 214.65,106.90 214.91,107.15 215.17,107.11 215.42,106.98 215.68,107.27 215.93,107.04 216.19,107.14 216.45,107.28 216.70,107.03 216.96,107.31 217.22,107.21 217.47,107.13 217.73,107.39 217.98,107.14 218.24,107.30 218.50,107.37 218.75,107.15 219.01,107.44 219.27,107.28 219.52,107.26 219.78,107.49 220.04,107.22 220.29,107.42 220.55,107.43 220.80,107.25 221.06,107.54 221.32,107.34 221.57,107.38 221.83,107.55 222.09,107.29 222.34,107.53 222.60,107.48 222.86,107.35 223.11,107.62 223.37,107.38 223.62,107.48 223.88,107.60 224.14,107.35 224.39,107.62 224.65,107.51 224.91,107.43 225.16,107.68 225.42,107.42 225.67,107.57 225.93,107.63 226.19,107.41 226.44,107.70 226.70,107.53" fill="none" stroke="#ee8040" stroke-width="0.95" stroke-linejoin="round" />
<polyline points="149.80,121.31 150.06,121.55 150.31,121.47 150.57,121.34 150.83,121.60 151.08,121.34 151.34,121.45 151.59,121.55 151.85,121.29 152.11,121.56 152.36,121.42 152.62,121.35 152.88,121.58 153.13,121.31 153.39,121.46 153.65,121.50 153.90,121.28 154.16,121.56 154.41,121.37 154.67,121.36 154.93,121.55 155.18,121.27 155.44,121.47 155.70,121.45 155.95,121.27 156.21,121.55 156.46,121.32 156.72,121.37 156.98,121.51 157.23,121.24 157.49,121.48 157.75,121.40 158.00,121.27 158.26,121.53 158.52,121.27 158.77,121.37 159.03,121.47 159.28,121.21 159.54,121.48 159.80,121.33 160.05,121.26 160.31,121.49 160.57,121.22 160.82,121.38 161.08,121.41 161.34,121.19 161.59,121.46 161.85,121.27 162.10,121.26 162.36,121.45 162.62,121.16 162.87,121.37 163.13,121.34 163.39,121.16 163.64,121.43 163.90,121.20 164.15,121.25 164.41,121.39 164.67,121.11 164.92,121.35 165.18,121.26 165.44,121.13 165.69,121.38 165.95,121.12 166.21,121.23 166.46,121.31 166.72,121.05 166.97,121.31 167.23,121.16 167.49,121.09 167.74,121.32 168.00,121.03 168.26,121.19 168.51,121.21 168.77,120.99 169.03,121.26 169.28,121.06 169.54,121.04 169.79,121.23 170.05,120.94 170.31,121.14 170.56,121.09 170.82,120.91 171.08,121.17 171.33,120.93 171.59,120.97 171.84,121.10 172.10,120.82 172.36,121.05 172.61,120.94 172.87,120.81 173.13,121.05 173.38,120.77 173.64,120.87 173.90,120.94 174.15,120.67 174.41,120.92 174.66,120.75 174.92,120.67 175.18,120.88 175.43,120.57 175.69,120.72 175.95,120.72 176.20,120.48 176.46,120.73 176.72,120.50 176.97,120.47 177.23,120.63 177.48,120.31 177.74,120.49 178.00,120.41 178.25,120.21 178.51,120.44 178.77,120.16 179.02,120.17 179.28,120.26 179.53,119.94 179.79,120.13 180.05,119.98 180.30,119.81 180.56,120.00 180.82,119.66 181.07,119.71 181.33,119.72 181.59,119.39 181.84,119.58 182.10,119.33 182.35,119.18 182.61,119.30 182.87,118.92 183.12,118.98 183.38,118.87 183.64,118.53 183.89,118.67 184.15,118.32 184.41,118.17 184.66,118.18 184.92,117.71 185.17,117.73 185.43,117.48 185.69,117.08 185.94,117.10 186.20,116.58 186.46,116.35 186.71,116.13 186.97,115.47 187.22,115.26 187.48,114.60 187.74,113.81 187.99,113.21 188.25,111.87 188.51,110.74 188.76,109.63 189.02,108.78 189.28,109.28 189.53,109.86 189.79,110.57 190.04,111.37 190.30,111.47 190.56,111.89 190.81,112.04 191.07,111.90 191.33,112.19 191.58,111.96 191.84,111.89 192.10,111.90 192.35,111.33 192.61,111.07 192.86,110.25 193.12,109.04 193.38,108.27 193.63,107.81 193.89,108.89 194.15,110.60 194.40,111.80 194.66,113.20 194.91,113.96 195.17,114.52 195.43,115.31 195.68,115.49 195.94,116.00 196.20,116.41 196.45,116.47 196.71,117.01 196.97,117.09 197.22,117.28 197.48,117.70 197.73,117.62 197.99,117.98 198.25,118.16 198.50,118.11 198.76,118.54 199.02,118.47 199.27,118.62 199.53,118.92 199.79,118.75 200.04,119.09 200.30,119.14 200.55,119.08 200.81,119.44 201.07,119.28 201.32,119.44 201.58,119.65 201.84,119.45 202.09,119.78 202.35,119.73 202.60,119.70 202.86,120.01 203.12,119.79 203.37,119.98 203.63,120.10 203.89,119.91 204.14,120.23 204.40,120.11 204.66,120.12 204.91,120.37 205.17,120.13 205.42,120.35 205.68,120.39 205.94,120.23 206.19,120.54 206.45,120.36 206.71,120.42 206.96,120.62 207.22,120.37 207.48,120.62 207.73,120.59 207.99,120.46 208.24,120.76 208.50,120.53 208.76,120.64 209.01,120.78 209.27,120.54 209.53,120.81 209.78,120.72 210.04,120.64 210.29,120.91 210.55,120.65 210.81,120.81 211.06,120.89 211.32,120.67 211.58,120.96 211.83,120.80 212.09,120.79 212.35,121.01 212.60,120.74 212.86,120.95 213.11,120.96 213.37,120.78 213.63,121.07 213.88,120.86 214.14,120.90 214.40,121.08 214.65,120.82 214.91,121.06 215.17,121.00 215.42,120.87 215.68,121.15 215.93,120.91 216.19,121.01 216.45,121.13 216.70,120.88 216.96,121.14 217.22,121.03 217.47,120.95 217.73,121.20 217.98,120.94 218.24,121.09 218.50,121.16 218.75,120.93 219.01,121.21 219.27,121.05 219.52,121.03 219.78,121.24 220.04,120.97 220.29,121.17 220.55,121.17 220.80,120.99 221.06,121.27 221.32,121.06 221.57,121.10 221.83,121.27 222.09,121.00 222.34,121.23 222.60,121.17 222.86,121.04 223.11,121.31 223.37,121.06 223.62,121.16 223.88,121.28 224.14,121.02 224.39,121.29 224.65,121.17 224.91,121.09 225.16,121.34 225.42,121.07 225.67,121.22 225.93,121.28 226.19,121.05 226.44,121.33 226.70,121.16" fill="none" stroke="#ef8848" stroke-width="0.95" stroke-linejoin="round" />
<polyline points="149.80,131.94 150.06,132.18 150.31,132.10 150.57,131.97 150.83,132.23 151.08,131.98 151.34,132.08 151.59,132.18 151.85,131.93 152.11,132.19 152.36,132.05 152.62,131.98 152.88,132.22 153.13,131.94 153.39,132.10 153.65,132.14 153.90,131.92 154.16,132.19 154.41,132.01 154.67,132.00 154.93,132.19 155.18,131.91 155.44,132.12 155.70,132.09 155.95,131.92 156.21,132.19 156.46,131.96 156.72,132.01 156.98,132.16 157.23,131.89 157.49,132.13 157.75,132.04 158.00,131.92 158.26,132.17 158.52,131.92 158.77,132.02 159.03,132.12 159.28,131.86 159.54,132.13 159.80,131.99 160.05,131.92 160.31,132.15 160.57,131.87 160.82,132.03 161.08,132.06 161.34,131.85 161.59,132.12 161.85,131.93 162.10,131.92 162.36,132.11 162.62,131.83 162.87,132.03 163.13,132.00 163.39,131.83 163.64,132.10 163.90,131.87 164.15,131.92 164.41,132.06 164.67,131.79 164.92,132.03 165.18,131.93 165.44,131.81 165.69,132.06 165.95,131.80 166.21,131.91 166.46,131.99 166.72,131.74 166.97,132.00 167.23,131.86 167.49,131.79 167.74,132.01 168.00,131.73 168.26,131.89 168.51,131.91 168.77,131.69 169.03,131.96 169.28,131.76 169.54,131.76 169.79,131.94 170.05,131.65 170.31,131.86 170.56,131.82 170.82,131.64 171.08,131.90 171.33,131.66 171.59,131.71 171.84,131.84 172.10,131.56 172.36,131.80 172.61,131.69 172.87,131.57 173.13,131.81 173.38,131.54 173.64,131.64 173.90,131.71 174.15,131.45 174.41,131.70 174.66,131.54 174.92,131.47 175.18,131.68 175.43,131.38 175.69,131.53 175.95,131.54 176.20,131.31 176.46,131.56 176.72,131.35 176.97,131.33 177.23,131.49 177.48,131.18 177.74,131.37 178.00,131.31 178.25,131.11 178.51,131.35 178.77,131.09 179.02,131.12 179.28,131.22 179.53,130.91 179.79,131.12 180.05,130.98 180.30,130.83 180.56,131.04 180.82,130.72 181.07,130.80 181.33,130.82 181.59,130.52 181.84,130.73 182.10,130.52 182.35,130.40 182.61,130.55 182.87,130.20 183.12,130.29 183.38,130.23 183.64,129.93 183.89,130.12 184.15,129.82 184.41,129.72 184.66,129.79 184.92,129.40 185.17,129.49 185.43,129.32 185.69,129.02 185.94,129.15 186.20,128.76 186.46,128.67 186.71,128.63 186.97,128.19 187.22,128.25 187.48,127.96 187.74,127.65 187.99,127.70 188.25,127.21 188.51,127.11 188.76,126.95 189.02,126.46 189.28,126.46 189.53,126.01 189.79,125.65 190.04,125.55 190.30,124.99 190.56,125.00 190.81,124.98 191.07,124.82 191.33,125.14 191.58,124.95 191.84,124.90 192.10,124.94 192.35,124.40 192.61,124.27 192.86,123.98 193.12,124.00 193.38,124.86 193.63,125.33 193.89,126.04 194.15,126.68 194.40,126.84 194.66,127.46 194.91,127.67 195.17,127.85 195.43,128.37 195.68,128.35 195.94,128.71 196.20,128.99 196.45,128.96 196.71,129.42 196.97,129.45 197.22,129.57 197.48,129.96 197.73,129.83 197.99,130.16 198.25,130.30 198.50,130.23 198.76,130.63 199.02,130.54 199.27,130.67 199.53,130.95 199.79,130.77 200.04,131.08 200.30,131.12 200.55,131.04 200.81,131.39 201.07,131.22 201.32,131.37 201.58,131.56 201.84,131.36 202.09,131.67 202.35,131.62 202.60,131.57 202.86,131.87 203.12,131.65 203.37,131.83 203.63,131.94 203.89,131.75 204.14,132.06 204.40,131.93 204.66,131.93 204.91,132.18 205.17,131.93 205.42,132.15 205.68,132.19 205.94,132.02 206.19,132.32 206.45,132.14 206.71,132.19 206.96,132.38 207.22,132.13 207.48,132.38 207.73,132.34 207.99,132.21 208.24,132.50 208.50,132.28 208.76,132.38 209.01,132.51 209.27,132.27 209.53,132.54 209.78,132.44 210.04,132.37 210.29,132.63 210.55,132.37 210.81,132.53 211.06,132.60 211.32,132.38 211.58,132.67 211.83,132.51 212.09,132.49 212.35,132.71 212.60,132.44 212.86,132.64 213.11,132.65 213.37,132.47 213.63,132.76 213.88,132.55 214.14,132.59 214.40,132.77 214.65,132.50 214.91,132.74 215.17,132.69 215.42,132.55 215.68,132.82 215.93,132.58 216.19,132.68 216.45,132.80 216.70,132.55 216.96,132.82 217.22,132.70 217.47,132.62 217.73,132.87 217.98,132.61 218.24,132.76 218.50,132.82 218.75,132.60 219.01,132.88 219.27,132.71 219.52,132.69 219.78,132.90 220.04,132.63 220.29,132.83 220.55,132.83 220.80,132.64 221.06,132.92 221.32,132.71 221.57,132.75 221.83,132.92 222.09,132.65 222.34,132.88 222.60,132.82 222.86,132.69 223.11,132.96 223.37,132.71 223.62,132.81 223.88,132.92 224.14,132.67 224.39,132.93 224.65,132.81 224.91,132.73 225.16,132.98 225.42,132.71 225.67,132.86 225.93,132.92 226.19,132.69 226.44,132.97 226.70,132.80" fill="none" stroke="#f29a66" stroke-width="0.85" stroke-linejoin="round" />
<polyline points="149.80,142.17 150.06,142.41 150.31,142.33 150.57,142.20 150.83,142.46 151.08,142.21 151.34,142.31 151.59,142.41 151.85,142.16 152.11,142.42 152.36,142.29 152.62,142.22 152.88,142.45 153.13,142.18 153.39,142.34 153.65,142.37 153.90,142.15 154.16,142.43 154.41,142.25 154.67,142.23 154.93,142.43 155.18,142.15 155.44,142.36 155.70,142.33 155.95,142.16 156.21,142.43 156.46,142.20 156.72,142.25 156.98,142.40 157.23,142.13 157.49,142.37 157.75,142.29 158.00,142.16 158.26,142.42 158.52,142.16 158.77,142.27 159.03,142.37 159.28,142.11 159.54,142.38 159.80,142.24 160.05,142.17 160.31,142.40 160.57,142.13 160.82,142.29 161.08,142.32 161.34,142.10 161.59,142.38 161.85,142.19 162.10,142.18 162.36,142.37 162.62,142.09 162.87,142.30 163.13,142.27 163.39,142.10 163.64,142.37 163.90,142.14 164.15,142.19 164.41,142.33 164.67,142.06 164.92,142.30 165.18,142.21 165.44,142.09 165.69,142.35 165.95,142.08 166.21,142.20 166.46,142.28 166.72,142.03 166.97,142.30 167.23,142.15 167.49,142.08 167.74,142.31 168.00,142.03 168.26,142.19 168.51,142.22 168.77,142.00 169.03,142.27 169.28,142.08 169.54,142.07 169.79,142.26 170.05,141.97 170.31,142.18 170.56,142.14 170.82,141.97 171.08,142.24 171.33,142.00 171.59,142.05 171.84,142.19 172.10,141.91 172.36,142.15 172.61,142.05 172.87,141.93 173.13,142.18 173.38,141.91 173.64,142.02 173.90,142.10 174.15,141.85 174.41,142.10 174.66,141.95 174.92,141.88 175.18,142.10 175.43,141.81 175.69,141.97 175.95,141.98 176.20,141.76 176.46,142.03 176.72,141.82 176.97,141.81 177.23,141.98 177.48,141.69 177.74,141.89 178.00,141.83 178.25,141.65 178.51,141.91 178.77,141.66 179.02,141.70 179.28,141.82 179.53,141.53 179.79,141.76 180.05,141.64 180.30,141.50 180.56,141.74 180.82,141.45 181.07,141.54 181.33,141.60 181.59,141.32 181.84,141.56 182.10,141.38 182.35,141.30 182.61,141.49 182.87,141.17 183.12,141.31 183.38,141.29 183.64,141.04 183.89,141.28 184.15,141.03 184.41,141.00 184.66,141.13 184.92,140.80 185.17,140.97 185.43,140.87 185.69,140.65 185.94,140.87 186.20,140.57 186.46,140.58 186.71,140.64 186.97,140.31 187.22,140.49 187.48,140.32 187.74,140.15 187.99,140.33 188.25,139.99 188.51,140.05 188.76,140.05 189.02,139.74 189.28,139.94 189.53,139.72 189.79,139.60 190.04,139.76 190.30,139.43 190.56,139.55 190.81,139.52 191.07,139.27 191.33,139.52 191.58,139.28 191.84,139.28 192.10,139.44 192.35,139.16 192.61,139.39 192.86,139.35 193.12,139.22 193.38,139.52 193.63,139.32 193.89,139.44 194.15,139.62 194.40,139.41 194.66,139.72 194.91,139.68 195.17,139.65 195.43,139.98 195.68,139.79 195.94,140.00 196.20,140.15 196.45,139.99 196.71,140.34 196.97,140.26 197.22,140.30 197.48,140.59 197.73,140.39 197.99,140.64 198.25,140.73 198.50,140.60 198.76,140.94 199.02,140.80 199.27,140.89 199.53,141.12 199.79,140.90 200.04,141.19 200.30,141.19 200.55,141.09 200.81,141.41 201.07,141.22 201.32,141.34 201.58,141.51 201.84,141.29 202.09,141.59 202.35,141.52 202.60,141.46 202.86,141.74 203.12,141.51 203.37,141.68 203.63,141.78 203.89,141.57 204.14,141.87 204.40,141.74 204.66,141.73 204.91,141.97 205.17,141.71 205.42,141.92 205.68,141.95 205.94,141.78 206.19,142.08 206.45,141.89 206.71,141.93 206.96,142.12 207.22,141.86 207.48,142.11 207.73,142.07 207.99,141.94 208.24,142.22 208.50,141.99 208.76,142.09 209.01,142.22 209.27,141.97 209.53,142.24 209.78,142.14 210.04,142.06 210.29,142.32 210.55,142.06 210.81,142.21 211.06,142.29 211.32,142.06 211.58,142.35 211.83,142.19 212.09,142.17 212.35,142.39 212.60,142.12 212.86,142.32 213.11,142.32 213.37,142.14 213.63,142.43 213.88,142.22 214.14,142.26 214.40,142.43 214.65,142.16 214.91,142.40 215.17,142.35 215.42,142.21 215.68,142.48 215.93,142.24 216.19,142.34 216.45,142.46 216.70,142.20 216.96,142.47 217.22,142.35 217.47,142.27 217.73,142.52 217.98,142.26 218.24,142.41 218.50,142.47 218.75,142.24 219.01,142.52 219.27,142.35 219.52,142.33 219.78,142.54 220.04,142.27 220.29,142.47 220.55,142.47 220.80,142.28 221.06,142.56 221.32,142.35 221.57,142.39 221.83,142.55 222.09,142.28 222.34,142.52 222.60,142.46 222.86,142.32 223.11,142.59 223.37,142.34 223.62,142.44 223.88,142.55 224.14,142.30 224.39,142.56 224.65,142.44 224.91,142.36 225.16,142.61 225.42,142.34 225.67,142.49 225.93,142.55 226.19,142.32 226.44,142.60 226.70,142.43" fill="none" stroke="#f5b38c" stroke-width="0.8" stroke-linejoin="round" />
<text x="155.5" y="105.4" font-size="2.75" fill="#2e2e2e" stroke="#2e2e2e" stroke-width="0.05" text-anchor="start" font-weight="normal" transform="matrix(1 0 0 1.28 0 -29.512)" >−0.1 V<tspan dy="0.8" font-size="1.8">RHE</tspan></text>
<text x="155.5" y="117.0" font-size="2.75" fill="#2e2e2e" stroke="#2e2e2e" stroke-width="0.05" text-anchor="start" font-weight="normal" transform="matrix(1 0 0 1.28 0 -32.760)" >0.0 V<tspan dy="0.8" font-size="1.8">RHE</tspan></text>
<text x="155.5" y="130.3" font-size="2.75" fill="#2e2e2e" stroke="#2e2e2e" stroke-width="0.05" text-anchor="start" font-weight="normal" transform="matrix(1 0 0 1.28 0 -36.484)" >0.1 V<tspan dy="0.8" font-size="1.8">RHE</tspan></text>
<text x="155.5" y="140.5" font-size="2.75" fill="#2e2e2e" stroke="#2e2e2e" stroke-width="0.05" text-anchor="start" font-weight="normal" transform="matrix(1 0 0 1.28 0 -39.340)" >0.2 V<tspan dy="0.8" font-size="1.8">RHE</tspan></text>
<text x="162.5" y="150.9" font-size="2.5" fill="#3c3c3c" stroke="#3c3c3c" stroke-width="0.05" text-anchor="middle" font-weight="normal" transform="matrix(1 0 0 1.28 0 -42.252)" >−5</text>
<text x="175" y="150.9" font-size="2.5" fill="#3c3c3c" stroke="#3c3c3c" stroke-width="0.05" text-anchor="middle" font-weight="normal" transform="matrix(1 0 0 1.28 0 -42.252)" >0</text>
<text x="188" y="150.9" font-size="2.5" fill="#3c3c3c" stroke="#3c3c3c" stroke-width="0.05" text-anchor="middle" font-weight="normal" transform="matrix(1 0 0 1.28 0 -42.252)" >5</text>
<text x="201.5" y="150.9" font-size="2.5" fill="#3c3c3c" stroke="#3c3c3c" stroke-width="0.05" text-anchor="middle" font-weight="normal" transform="matrix(1 0 0 1.28 0 -42.252)" >10</text>
<text x="214" y="150.9" font-size="2.5" fill="#3c3c3c" stroke="#3c3c3c" stroke-width="0.05" text-anchor="middle" font-weight="normal" transform="matrix(1 0 0 1.28 0 -42.252)" >15</text>
<text x="226.5" y="150.9" font-size="2.5" fill="#3c3c3c" stroke="#3c3c3c" stroke-width="0.05" text-anchor="middle" font-weight="normal" transform="matrix(1 0 0 1.28 0 -42.252)" >20</text>
<text x="187.5" y="154.6" font-size="3.1" fill="#2e2e2e" stroke="#2e2e2e" stroke-width="0.05" text-anchor="middle" font-weight="normal" transform="matrix(1 0 0 1.28 0 -43.288)" >Chemical shift (ppm)</text>
<text x="146.5" y="116" font-size="2.8" fill="#2e2e2e" stroke="#2e2e2e" stroke-width="0.05" text-anchor="middle" font-weight="normal"  transform="rotate(-90 146.5 116) matrix(1 0 0 1.28 0 -32.480)">Intensity (a.u.)</text>
<path d="M201.5,92.5 l0.8,-3.5 l1.2,-1.3 M202.3,89 l-0.9,-0.6" stroke="#555" stroke-width="0.35" fill="none"/>
<text x="198.2" y="95.3" font-size="2.0" fill="#3c3c3c" stroke="#3c3c3c" stroke-width="0.05" text-anchor="start" font-weight="normal" transform="matrix(1 0 0 1.28 0 -26.684)" >= N+</text>
<rect x="242.5" y="85" width="77.89999999999998" height="61.5" fill="none" stroke="#c2c2c2" stroke-width="0.5"/>
<path d="M242.5,135.5 C243.75,135.60 246.92,135.93 250,136.1 C253.08,136.27 257.00,136.82 261,136.5 C265.00,136.18 270.83,134.88 274,134.2 C277.17,133.52 277.33,133.27 280,132.4 C282.67,131.53 286.67,131.07 290,129 C293.33,126.93 296.67,123.17 300,120 C303.33,116.83 306.60,113.33 310,110 C313.40,106.67 318.67,101.67 320.4,100" fill="none" stroke="#f09a62" stroke-width="0.9"/>
<path d="M242.5,140.2 C243.75,140.43 246.92,141.13 250,141.6 C253.08,142.07 257.00,142.85 261,143 C265.00,143.15 270.83,142.83 274,142.5 C277.17,142.17 277.33,142.02 280,141 C282.67,139.98 286.67,137.83 290,136.4 C293.33,134.97 296.67,133.67 300,132.4 C303.33,131.13 306.60,131.20 310,128.8 C313.40,126.40 318.67,119.80 320.4,118" fill="none" stroke="#ec7a36" stroke-width="1.0"/>
<text x="240.2" y="95.30000000000001" font-size="2.5" fill="#3c3c3c" stroke="#3c3c3c" stroke-width="0.05" text-anchor="end" font-weight="normal" transform="matrix(1 0 0 1.28 0 -26.684)" >10</text>
<text x="240.2" y="109.30000000000001" font-size="2.5" fill="#3c3c3c" stroke="#3c3c3c" stroke-width="0.05" text-anchor="end" font-weight="normal" transform="matrix(1 0 0 1.28 0 -30.604)" >8</text>
<text x="240.2" y="123.30000000000001" font-size="2.5" fill="#3c3c3c" stroke="#3c3c3c" stroke-width="0.05" text-anchor="end" font-weight="normal" transform="matrix(1 0 0 1.28 0 -34.524)" >6</text>
<text x="240.2" y="137.70000000000002" font-size="2.5" fill="#3c3c3c" stroke="#3c3c3c" stroke-width="0.05" text-anchor="end" font-weight="normal" transform="matrix(1 0 0 1.28 0 -38.556)" >2</text>
<text x="242.5" y="150.4" font-size="2.5" fill="#3c3c3c" stroke="#3c3c3c" stroke-width="0.05" text-anchor="middle" font-weight="normal" transform="matrix(1 0 0 1.28 0 -42.112)" >−0.3</text>
<text x="261.8" y="150.4" font-size="2.5" fill="#3c3c3c" stroke="#3c3c3c" stroke-width="0.05" text-anchor="middle" font-weight="normal" transform="matrix(1 0 0 1.28 0 -42.112)" >−0.2</text>
<text x="281" y="150.4" font-size="2.5" fill="#3c3c3c" stroke="#3c3c3c" stroke-width="0.05" text-anchor="middle" font-weight="normal" transform="matrix(1 0 0 1.28 0 -42.112)" >−0.1</text>
<text x="300.6" y="150.4" font-size="2.5" fill="#3c3c3c" stroke="#3c3c3c" stroke-width="0.05" text-anchor="middle" font-weight="normal" transform="matrix(1 0 0 1.28 0 -42.112)" >0</text>
<text x="320.4" y="150.4" font-size="2.5" fill="#3c3c3c" stroke="#3c3c3c" stroke-width="0.05" text-anchor="middle" font-weight="normal" transform="matrix(1 0 0 1.28 0 -42.112)" >0.1</text>
<text x="281" y="154.3" font-size="2.9" fill="#2e2e2e" stroke="#2e2e2e" stroke-width="0.05" text-anchor="middle" font-weight="normal" transform="matrix(1 0 0 1.28 0 -43.204)" >Potential (V versus RHE)</text>
<text x="234.8" y="115" font-size="2.7" fill="#2e2e2e" stroke="#2e2e2e" stroke-width="0.05" text-anchor="middle" font-weight="normal"  transform="rotate(-90 234.8 115) matrix(1 0 0 1.28 0 -32.200)">Local pH on MnO<tspan dy="0.8" font-size="1.8">2-x</tspan><tspan dy="-0.8"> surface</tspan></text>
<text x="318.5" y="89.5" font-size="2.7" fill="#2e2e2e" stroke="#2e2e2e" stroke-width="0.05" text-anchor="end" font-weight="normal" transform="matrix(1 0 0 1.28 0 -25.060)" >MnO<tspan dy="0.8" font-size="1.8">2-x</tspan></text>
<text x="299" y="115.2" font-size="2.6" fill="#2e2e2e" stroke="#2e2e2e" stroke-width="0.05" text-anchor="start" font-weight="normal" transform="matrix(1 0 0 1.28 0 -32.256)" >pH<tspan dy="0.8" font-size="1.8">surface</tspan><tspan dy="-0.8"> + 10</tspan></text>
<text x="300" y="131.0" font-size="2.6" fill="#2e2e2e" stroke="#2e2e2e" stroke-width="0.05" text-anchor="start" font-weight="normal" transform="matrix(1 0 0 1.28 0 -36.680)" >pH<tspan dy="0.8" font-size="1.8">surface</tspan><tspan dy="-0.8"> + 7</tspan></text>
<defs><radialGradient id="fade" cx="0.5" cy="0.45" r="0.6"><stop offset="0.55" stop-color="#fff" stop-opacity="0"/><stop offset="1" stop-color="#fff" stop-opacity="0.85"/></radialGradient></defs>
<circle cx="250" cy="97" r="1.6" fill="#c2cfe3"/>
<circle cx="278" cy="97" r="1.6" fill="#c2cfe3"/>
<circle cx="249" cy="103" r="1.5" fill="#f6cfb3"/>
<circle cx="279" cy="103" r="1.5" fill="#f6cfb3"/>
<circle cx="248.5" cy="110" r="1.6" fill="#f6cfb3"/>
<circle cx="279.5" cy="110" r="1.6" fill="#f6cfb3"/>
<circle cx="249" cy="117" r="1.6" fill="#c2cfe3"/>
<circle cx="279" cy="117" r="1.6" fill="#c2cfe3"/>
<circle cx="250" cy="123" r="1.8" fill="#f6cfb3"/>
<circle cx="278" cy="123" r="1.8" fill="#f6cfb3"/>
<circle cx="256" cy="125" r="1.6" fill="#c2cfe3"/>
<circle cx="272" cy="125" r="1.6" fill="#c2cfe3"/>
<circle cx="264" cy="125.5" r="1.8" fill="#f6cfb3"/>
<circle cx="253" cy="126.5" r="1.4" fill="#f6cfb3"/>
<circle cx="275" cy="126.5" r="1.4" fill="#f6cfb3"/>
<circle cx="260" cy="128" r="1.3" fill="#f6cfb3"/>
<circle cx="268" cy="128" r="1.3" fill="#f6cfb3"/>
<circle cx="254.5" cy="99.3" r="1.6" fill="#c2cfe3"/>
<circle cx="259.2" cy="99.0" r="1.6" fill="#de742c"/>
<circle cx="264" cy="98.6" r="1.6" fill="#de742c"/>
<circle cx="268.8" cy="99.0" r="1.6" fill="#de742c"/>
<circle cx="273.5" cy="99.3" r="1.6" fill="#c2cfe3"/>
<circle cx="254.8" cy="102.2" r="1.7" fill="#de742c"/>
<circle cx="259.2" cy="102.0" r="1.9" fill="#5b77a9"/>
<circle cx="264" cy="102.0" r="1.7" fill="#de742c"/>
<circle cx="268.8" cy="102.0" r="1.9" fill="#5b77a9"/>
<circle cx="273.2" cy="102.2" r="1.7" fill="#de742c"/>
<circle cx="254.8" cy="105.6" r="1.9" fill="#5b77a9"/>
<circle cx="259.2" cy="105.2" r="1.7" fill="#de742c"/>
<circle cx="268.8" cy="105.2" r="1.7" fill="#de742c"/>
<circle cx="273.2" cy="105.6" r="1.9" fill="#5b77a9"/>
<circle cx="264" cy="106.6" r="1.6" fill="#de742c"/>
<circle cx="252.5" cy="108.8" r="1.6" fill="#de742c"/>
<circle cx="255.5" cy="109.2" r="1.8" fill="#5b77a9"/>
<circle cx="272.5" cy="109.2" r="1.8" fill="#5b77a9"/>
<circle cx="275.5" cy="108.8" r="1.6" fill="#de742c"/>
<circle cx="255" cy="112.0" r="1.7" fill="#de742c"/>
<circle cx="264" cy="111.6" r="1.6" fill="#de742c"/>
<circle cx="273" cy="112.0" r="1.7" fill="#de742c"/>
<circle cx="259.2" cy="114.4" r="1.7" fill="#de742c"/>
<circle cx="268.8" cy="114.4" r="1.7" fill="#de742c"/>
<circle cx="252.5" cy="114.8" r="1.7" fill="#5b77a9"/>
<circle cx="275.5" cy="114.8" r="1.7" fill="#5b77a9"/>
<circle cx="255" cy="118.3" r="1.7" fill="#de742c"/>
<circle cx="259.2" cy="119.0" r="1.9" fill="#5b77a9"/>
<circle cx="264" cy="118.5" r="1.7" fill="#de742c"/>
<circle cx="268.8" cy="119.0" r="1.9" fill="#5b77a9"/>
<circle cx="273" cy="118.3" r="1.7" fill="#de742c"/>
<circle cx="255.5" cy="121.8" r="1.5" fill="#f6cfb3"/>
<circle cx="262" cy="122.0" r="1.4" fill="#f6cfb3"/>
<circle cx="266" cy="122.0" r="1.4" fill="#f6cfb3"/>
<circle cx="272.5" cy="121.8" r="1.5" fill="#f6cfb3"/>
<text x="265.8" y="89.8" font-size="2.5" fill="#2e2e2e" stroke="#2e2e2e" stroke-width="0.05" text-anchor="start" font-weight="normal" transform="matrix(1 0 0 1.28 0 -25.144)" >H<tspan dy="0.8" font-size="1.8">2</tspan><tspan dy="-0.8">O</tspan></text>
<line x1="267" y1="91" x2="263.8" y2="96.5" stroke="#4a6aa0" stroke-width="0.35" />
<line x1="56.5" y1="161.5" x2="56.5" y2="235" stroke="#c2c2c2" stroke-width="0.5" />
<line x1="56.5" y1="235" x2="112.2" y2="235" stroke="#c2c2c2" stroke-width="0.5" />
<line x1="114" y1="235" x2="164.2" y2="235" stroke="#c2c2c2" stroke-width="0.5" />
<line x1="166" y1="235" x2="221" y2="235" stroke="#c2c2c2" stroke-width="0.5" />
<line x1="68.5" y1="174" x2="68.5" y2="235" stroke="#c8c8c8" stroke-width="0.35" stroke-dasharray="0.8,0.6"/>
<line x1="80" y1="174" x2="80" y2="235" stroke="#c8c8c8" stroke-width="0.35" stroke-dasharray="0.8,0.6"/>
<line x1="87.5" y1="174" x2="87.5" y2="235" stroke="#c8c8c8" stroke-width="0.35" stroke-dasharray="0.8,0.6"/>
<line x1="121" y1="172" x2="121" y2="235" stroke="#c8c8c8" stroke-width="0.35" stroke-dasharray="0.8,0.6"/>
<line x1="188" y1="166" x2="188" y2="235" stroke="#c8c8c8" stroke-width="0.35" stroke-dasharray="0.8,0.6"/>
<line x1="196.3" y1="166" x2="196.3" y2="235" stroke="#c8c8c8" stroke-width="0.35" stroke-dasharray="0.8,0.6"/>
<line x1="204.5" y1="166" x2="204.5" y2="235" stroke="#c8c8c8" stroke-width="0.35" stroke-dasharray="0.8,0.6"/>
<polyline points="56.80,180.71 57.05,180.77 57.30,180.63 57.55,180.51 57.80,180.60 58.05,180.80 58.31,180.84 58.56,180.70 58.81,180.60 59.06,180.71 59.31,180.90 59.56,180.93 59.81,180.78 60.06,180.69 60.31,180.81 60.56,180.99 60.81,180.99 61.07,180.82 61.32,180.74 61.57,180.87 61.82,181.03 62.07,180.99 62.32,180.80 62.57,180.72 62.82,180.84 63.07,180.97 63.32,180.90 63.57,180.69 63.83,180.61 64.08,180.73 64.33,180.82 64.58,180.71 64.83,180.49 65.08,180.41 65.33,180.52 65.58,180.58 65.83,180.42 66.08,180.17 66.33,180.06 66.59,180.11 66.84,180.07 67.09,179.76 67.34,179.34 67.59,179.02 67.84,178.80 68.09,178.46 68.34,178.01 68.59,177.80 68.84,178.08 69.09,178.65 69.35,179.12 69.60,179.31 69.85,179.41 70.10,179.65 70.35,179.96 70.60,180.11 70.85,180.04 71.10,179.95 71.35,180.07 71.60,180.27 71.85,180.33 72.11,180.18 72.36,180.07 72.61,180.17 72.86,180.34 73.11,180.35 73.36,180.18 73.61,180.06 73.86,180.16 74.11,180.31 74.36,180.28 74.61,180.09 74.87,179.97 75.12,180.06 75.37,180.18 75.62,180.11 75.87,179.88 76.12,179.75 76.37,179.81 76.62,179.87 76.87,179.72 77.12,179.42 77.37,179.21 77.63,179.18 77.88,179.09 78.13,178.73 78.38,178.21 78.63,177.75 78.88,177.41 79.13,176.97 79.38,176.30 79.63,175.62 79.88,175.32 80.13,175.49 80.39,175.89 80.64,176.28 80.89,176.68 81.14,177.23 81.39,177.88 81.64,178.36 81.89,178.56 82.14,178.65 82.39,178.88 82.64,179.21 82.89,179.40 83.15,179.34 83.40,179.25 83.65,179.34 83.90,179.53 84.15,179.57 84.40,179.39 84.65,179.20 84.90,179.18 85.15,179.24 85.40,179.11 85.65,178.74 85.91,178.33 86.16,178.04 86.41,177.75 86.66,177.20 86.91,176.41 87.16,175.74 87.41,175.51 87.66,175.73 87.91,176.11 88.16,176.51 88.41,177.00 88.67,177.63 88.92,178.20 89.17,178.48 89.42,178.53 89.67,178.60 89.92,178.83 90.17,179.02 90.42,178.97 90.67,178.75 90.92,178.60 91.17,178.61 91.43,178.56 91.68,178.23 91.93,177.73 92.18,177.30 92.43,176.99 92.68,176.60 92.93,176.02 93.18,175.45 93.43,175.24 93.68,175.49 93.93,175.93 94.19,176.31 94.44,176.69 94.69,177.23 94.94,177.89 95.19,178.39 95.44,178.61 95.69,178.73 95.94,178.99 96.19,179.36 96.44,179.60 96.69,179.59 96.95,179.55 97.20,179.69 97.45,179.95 97.70,180.08 97.95,179.99 98.20,179.90 98.45,180.01 98.70,180.23 98.95,180.30 99.20,180.18 99.45,180.08 99.71,180.19 99.96,180.39 100.21,180.42 100.46,180.27 100.71,180.18 100.96,180.30 101.21,180.48 101.46,180.49 101.71,180.33 101.96,180.24 102.21,180.37 102.47,180.54 102.72,180.53 102.97,180.36 103.22,180.29 103.47,180.43 103.72,180.59 103.97,180.55 104.22,180.38 104.47,180.32 104.72,180.48 104.97,180.62 105.23,180.56 105.48,180.39 105.73,180.35 105.98,180.51 106.23,180.64 106.48,180.56 106.73,180.39 106.98,180.38 107.23,180.55 107.48,180.66 107.73,180.56 107.99,180.40 108.24,180.40 108.49,180.58 108.74,180.67 108.99,180.56 109.24,180.40 109.49,180.42 109.74,180.60 109.99,180.68 110.24,180.55 110.49,180.40 110.75,180.44 111.00,180.62 111.25,180.68 111.50,180.54 111.75,180.40 112.00,180.46" fill="none" stroke="#ee7a33" stroke-width="0.95" stroke-linejoin="round" />
<polyline points="114.30,180.49 114.61,180.39 114.92,180.18 115.23,180.14 115.54,180.27 115.85,180.26 116.16,180.01 116.47,179.72 116.78,179.62 117.10,179.58 117.41,179.32 117.72,178.82 118.03,178.37 118.34,178.09 118.65,177.81 118.96,177.29 119.27,176.64 119.58,176.17 119.89,175.93 120.20,175.68 120.51,175.27 120.82,174.90 121.13,174.85 121.44,175.03 121.75,175.16 122.07,175.17 122.38,175.30 122.69,175.71 123.00,176.22 123.31,176.53 123.62,176.70 123.93,176.98 124.24,177.45 124.55,177.85 124.86,177.99 125.17,178.01 125.48,178.20 125.79,178.52 126.10,178.69 126.41,178.61 126.72,178.54 127.04,178.68 127.35,178.89 127.66,178.92 127.97,178.76 128.28,178.70 128.59,178.87 128.90,179.03 129.21,178.96 129.52,178.80 129.83,178.81 130.14,179.00 130.45,179.10 130.76,178.98 131.07,178.84 131.38,178.92 131.69,179.12 132.01,179.16 132.32,178.99 132.63,178.91 132.94,179.05 133.25,179.23 133.56,179.19 133.87,179.02 134.18,179.00 134.49,179.18 134.80,179.31 135.11,179.20 135.42,179.05 135.73,179.10 136.04,179.30 136.35,179.36 136.66,179.21 136.98,179.10 137.29,179.22 137.60,179.41 137.91,179.40 138.22,179.23 138.53,179.18 138.84,179.35 139.15,179.50 139.46,179.41 139.77,179.25 140.08,179.28 140.39,179.47 140.70,179.56 141.01,179.42 141.32,179.29 141.63,179.39 141.95,179.58 142.26,179.59 142.57,179.43 142.88,179.35 143.19,179.51 143.50,179.67 143.81,179.61 144.12,179.44 144.43,179.44 144.74,179.62 145.05,179.73 145.36,179.61 145.67,179.47 145.98,179.54 146.29,179.73 146.60,179.77 146.92,179.61 147.23,179.52 147.54,179.65 147.85,179.83 148.16,179.79 148.47,179.62 148.78,179.59 149.09,179.77 149.40,179.90 149.71,179.80 150.02,179.64 150.33,179.68 150.64,179.88 150.95,179.94 151.26,179.79 151.57,179.67 151.89,179.78 152.20,179.97 152.51,179.96 152.82,179.79 153.13,179.73 153.44,179.90 153.75,180.05 154.06,179.97 154.37,179.80 154.68,179.81 154.99,180.00 155.30,180.10 155.61,179.96 155.92,179.83 156.23,179.91 156.55,180.10 156.86,180.12 157.17,179.96 157.48,179.87 157.79,180.02 158.10,180.18 158.41,180.13 158.72,179.96 159.03,179.94 159.34,180.12 159.65,180.24 159.96,180.13 160.27,179.97 160.58,180.03 160.89,180.22 161.20,180.27 161.51,180.11 161.83,180.01 162.14,180.13 162.45,180.31 162.76,180.28 163.07,180.11 163.38,180.06 163.69,180.23 164.00,180.37" fill="none" stroke="#ee7a33" stroke-width="0.95" stroke-linejoin="round" />
<polyline points="166.30,180.27 166.60,180.27 166.91,180.26 167.21,180.26 167.52,180.26 167.82,180.26 168.12,180.26 168.43,180.26 168.73,180.26 169.04,180.26 169.34,180.26 169.64,180.26 169.95,180.26 170.25,180.26 170.55,180.25 170.86,180.25 171.16,180.25 171.47,180.25 171.77,180.25 172.07,180.25 172.38,180.25 172.68,180.25 172.99,180.24 173.29,180.24 173.59,180.24 173.90,180.24 174.20,180.24 174.50,180.24 174.81,180.23 175.11,180.23 175.42,180.23 175.72,180.23 176.02,180.22 176.33,180.22 176.63,180.21 176.94,180.20 177.24,180.19 177.54,180.18 177.85,180.16 178.15,180.13 178.46,180.10 178.76,180.06 179.06,180.01 179.37,179.94 179.67,179.86 179.98,179.76 180.28,179.64 180.58,179.50 180.89,179.33 181.19,179.15 181.49,178.93 181.80,178.70 182.10,178.44 182.41,178.16 182.71,177.86 183.01,177.54 183.32,177.21 183.62,176.86 183.93,176.50 184.23,176.14 184.53,175.77 184.84,175.40 185.14,175.04 185.44,174.68 185.75,174.33 186.05,174.00 186.36,173.67 186.66,173.36 186.96,173.07 187.27,172.79 187.57,172.53 187.88,172.29 188.18,172.06 188.48,171.85 188.79,171.66 189.09,171.48 189.40,171.31 189.70,171.15 190.00,171.01 190.31,170.87 190.61,170.73 190.92,170.60 191.22,170.47 191.52,170.34 191.83,170.21 192.13,170.07 192.43,169.92 192.74,169.75 193.04,169.57 193.35,169.38 193.65,169.16 193.95,168.92 194.26,168.66 194.56,168.39 194.87,168.12 195.17,167.86 195.47,167.62 195.78,167.44 196.08,167.34 196.39,167.32 196.69,167.39 196.99,167.55 197.30,167.76 197.60,168.02 197.90,168.30 198.21,168.58 198.51,168.85 198.82,169.10 199.12,169.34 199.42,169.56 199.73,169.76 200.03,169.94 200.34,170.12 200.64,170.29 200.94,170.45 201.25,170.62 201.55,170.78 201.86,170.95 202.16,171.14 202.46,171.33 202.77,171.54 203.07,171.76 203.37,172.01 203.68,172.27 203.98,172.56 204.29,172.87 204.59,173.20 204.89,173.56 205.20,173.94 205.50,174.34 205.81,174.75 206.11,175.19 206.41,175.63 206.72,176.09 207.02,176.54 207.32,177.00 207.63,177.45 207.93,177.89 208.24,178.31 208.54,178.71 208.84,179.09 209.15,179.44 209.45,179.75 209.76,180.04 210.06,180.29 210.36,180.51 210.67,180.69 210.97,180.85 211.28,180.98 211.58,181.08 211.88,181.16 212.19,181.22 212.49,181.27 212.80,181.31 213.10,181.34 213.40,181.36 213.71,181.37 214.01,181.38 214.31,181.39 214.62,181.40 214.92,181.40 215.23,181.41 215.53,181.41 215.83,181.42 216.14,181.42 216.44,181.42 216.75,181.42 217.05,181.43 217.35,181.43 217.66,181.43 217.96,181.43 218.27,181.44 218.57,181.44 218.87,181.44 219.18,181.44 219.48,181.44 219.78,181.44 220.09,181.45 220.39,181.45 220.70,181.45 221.00,181.45" fill="none" stroke="#ee7a33" stroke-width="1.0" stroke-linejoin="round" />
<polyline points="56.80,192.98 57.05,192.87 57.30,192.72 57.55,192.76 57.80,192.95 58.05,193.04 58.31,192.93 58.56,192.79 58.81,192.86 59.06,193.06 59.31,193.13 59.56,193.00 59.81,192.88 60.06,192.96 60.31,193.16 60.56,193.21 60.81,193.06 61.07,192.94 61.32,193.03 61.57,193.21 61.82,193.23 62.07,193.06 62.32,192.94 62.57,193.02 62.82,193.18 63.07,193.16 63.32,192.96 63.57,192.84 63.83,192.93 64.08,193.06 64.33,193.00 64.58,192.78 64.83,192.66 65.08,192.74 65.33,192.84 65.58,192.74 65.83,192.49 66.08,192.35 66.33,192.40 66.59,192.42 66.84,192.21 67.09,191.84 67.34,191.54 67.59,191.37 67.84,191.10 68.09,190.59 68.34,190.09 68.59,190.02 68.84,190.43 69.09,190.94 69.35,191.24 69.60,191.40 69.85,191.65 70.10,192.01 70.35,192.24 70.60,192.23 70.85,192.14 71.10,192.22 71.35,192.43 71.60,192.55 71.85,192.44 72.11,192.30 72.36,192.36 72.61,192.54 72.86,192.61 73.11,192.46 73.36,192.32 73.61,192.37 73.86,192.54 74.11,192.57 74.36,192.40 74.61,192.25 74.87,192.31 75.12,192.46 75.37,192.45 75.62,192.24 75.87,192.08 76.12,192.13 76.37,192.24 76.62,192.16 76.87,191.89 77.12,191.68 77.37,191.66 77.63,191.65 77.88,191.42 78.13,190.98 78.38,190.57 78.63,190.28 78.88,189.93 79.13,189.30 79.38,188.49 79.63,187.87 79.88,187.68 80.13,187.83 80.39,188.11 80.64,188.49 80.89,189.06 81.14,189.78 81.39,190.40 81.64,190.71 81.89,190.84 82.14,191.06 82.39,191.41 82.64,191.67 82.89,191.68 83.15,191.59 83.40,191.65 83.65,191.85 83.90,191.97 84.15,191.85 84.40,191.67 84.65,191.64 84.90,191.75 85.15,191.74 85.40,191.48 85.65,191.14 85.91,190.94 86.16,190.79 86.41,190.43 86.66,189.75 86.91,188.99 87.16,188.47 87.41,188.30 87.66,188.40 87.91,188.65 88.16,189.11 88.41,189.76 88.67,190.41 88.92,190.80 89.17,190.90 89.42,190.96 89.67,191.18 89.92,191.42 90.17,191.45 90.42,191.26 90.67,191.11 90.92,191.13 91.17,191.16 91.43,190.96 91.68,190.54 91.93,190.15 92.18,189.91 92.43,189.63 92.68,189.12 92.93,188.48 93.18,188.05 93.43,188.02 93.68,188.23 93.93,188.47 94.19,188.74 94.44,189.20 94.69,189.85 94.94,190.42 95.19,190.72 95.44,190.85 95.69,191.09 95.94,191.47 96.19,191.76 96.44,191.81 96.69,191.76 96.95,191.86 97.20,192.11 97.45,192.29 97.70,192.24 97.95,192.13 98.20,192.19 98.45,192.41 98.70,192.53 98.95,192.43 99.20,192.30 99.45,192.37 99.71,192.57 99.96,192.65 100.21,192.53 100.46,192.40 100.71,192.47 100.96,192.67 101.21,192.72 101.46,192.58 101.71,192.46 101.96,192.55 102.21,192.73 102.47,192.76 102.72,192.61 102.97,192.50 103.22,192.60 103.47,192.78 103.72,192.79 103.97,192.62 104.22,192.53 104.47,192.64 104.72,192.81 104.97,192.80 105.23,192.63 105.48,192.55 105.73,192.68 105.98,192.84 106.23,192.81 106.48,192.63 106.73,192.57 106.98,192.71 107.23,192.86 107.48,192.81 107.73,192.63 107.99,192.59 108.24,192.74 108.49,192.88 108.74,192.80 108.99,192.63 109.24,192.60 109.49,192.77 109.74,192.89 109.99,192.80 110.24,192.63 110.49,192.62 110.75,192.79 111.00,192.90 111.25,192.79 111.50,192.62 111.75,192.64 112.00,192.81" fill="none" stroke="#f08a48" stroke-width="0.95" stroke-linejoin="round" />
<polyline points="114.30,192.66 114.61,192.46 114.92,192.38 115.23,192.50 115.54,192.58 115.85,192.42 116.16,192.15 116.47,192.05 116.78,192.08 117.10,191.96 117.41,191.58 117.72,191.17 118.03,190.95 118.34,190.79 118.65,190.42 118.96,189.85 119.27,189.38 119.58,189.14 119.89,188.94 120.20,188.57 120.51,188.14 120.82,187.96 121.13,188.05 121.44,188.15 121.75,188.09 122.07,188.08 122.38,188.35 122.69,188.79 123.00,189.10 123.31,189.23 123.62,189.42 123.93,189.82 124.24,190.25 124.55,190.43 124.86,190.45 125.17,190.58 125.48,190.89 125.79,191.12 126.10,191.09 126.41,190.99 126.72,191.08 127.04,191.30 127.35,191.39 127.66,191.25 127.97,191.15 128.28,191.27 128.59,191.46 128.90,191.45 129.21,191.28 129.52,191.23 129.83,191.40 130.14,191.55 130.45,191.47 130.76,191.30 131.07,191.32 131.38,191.52 131.69,191.61 132.01,191.48 132.32,191.34 132.63,191.43 132.94,191.63 133.25,191.65 133.56,191.48 133.87,191.40 134.18,191.55 134.49,191.72 134.80,191.67 135.11,191.50 135.42,191.49 135.73,191.67 136.04,191.79 136.35,191.67 136.66,191.52 136.98,191.59 137.29,191.78 137.60,191.83 137.91,191.67 138.22,191.57 138.53,191.70 138.84,191.88 139.15,191.85 139.46,191.68 139.77,191.64 140.08,191.82 140.39,191.95 140.70,191.86 141.01,191.70 141.32,191.73 141.63,191.93 141.95,192.00 142.26,191.86 142.57,191.73 142.88,191.84 143.19,192.03 143.50,192.03 143.81,191.86 144.12,191.79 144.43,191.95 144.74,192.10 145.05,192.04 145.36,191.86 145.67,191.87 145.98,192.06 146.29,192.16 146.60,192.03 146.92,191.89 147.23,191.97 147.54,192.16 147.85,192.19 148.16,192.02 148.47,191.93 148.78,192.07 149.09,192.24 149.40,192.20 149.71,192.02 150.02,192.00 150.33,192.18 150.64,192.30 150.95,192.19 151.26,192.04 151.57,192.09 151.89,192.28 152.20,192.34 152.51,192.18 152.82,192.07 153.13,192.19 153.44,192.37 153.75,192.35 154.06,192.18 154.37,192.13 154.68,192.30 154.99,192.44 155.30,192.35 155.61,192.18 155.92,192.20 156.23,192.40 156.55,192.48 156.86,192.34 157.17,192.20 157.48,192.30 157.79,192.49 158.10,192.50 158.41,192.33 158.72,192.25 159.03,192.40 159.34,192.56 159.65,192.50 159.96,192.32 160.27,192.32 160.58,192.50 160.89,192.61 161.20,192.48 161.51,192.33 161.83,192.40 162.14,192.59 162.45,192.63 162.76,192.47 163.07,192.37 163.38,192.50 163.69,192.67 164.00,192.63" fill="none" stroke="#f08a48" stroke-width="0.95" stroke-linejoin="round" />
<polyline points="166.30,192.47 166.60,192.47 166.91,192.47 167.21,192.47 167.52,192.47 167.82,192.47 168.12,192.47 168.43,192.47 168.73,192.47 169.04,192.46 169.34,192.46 169.64,192.46 169.95,192.46 170.25,192.46 170.55,192.46 170.86,192.46 171.16,192.46 171.47,192.46 171.77,192.46 172.07,192.45 172.38,192.45 172.68,192.45 172.99,192.45 173.29,192.45 173.59,192.45 173.90,192.45 174.20,192.45 174.50,192.44 174.81,192.44 175.11,192.44 175.42,192.44 175.72,192.44 176.02,192.43 176.33,192.43 176.63,192.42 176.94,192.42 177.24,192.41 177.54,192.39 177.85,192.38 178.15,192.35 178.46,192.33 178.76,192.29 179.06,192.24 179.37,192.18 179.67,192.11 179.98,192.02 180.28,191.92 180.58,191.79 180.89,191.65 181.19,191.49 181.49,191.30 181.80,191.10 182.10,190.87 182.41,190.63 182.71,190.36 183.01,190.08 183.32,189.79 183.62,189.48 183.93,189.17 184.23,188.85 184.53,188.53 184.84,188.21 185.14,187.89 185.44,187.57 185.75,187.27 186.05,186.97 186.36,186.69 186.66,186.42 186.96,186.16 187.27,185.92 187.57,185.69 187.88,185.47 188.18,185.28 188.48,185.09 188.79,184.92 189.09,184.76 189.40,184.62 189.70,184.48 190.00,184.35 190.31,184.23 190.61,184.11 190.92,184.00 191.22,183.88 191.52,183.77 191.83,183.65 192.13,183.53 192.43,183.39 192.74,183.25 193.04,183.09 193.35,182.92 193.65,182.73 193.95,182.52 194.26,182.30 194.56,182.06 194.87,181.82 195.17,181.59 195.47,181.38 195.78,181.23 196.08,181.13 196.39,181.12 196.69,181.18 196.99,181.32 197.30,181.51 197.60,181.74 197.90,181.98 198.21,182.23 198.51,182.46 198.82,182.69 199.12,182.90 199.42,183.09 199.73,183.27 200.03,183.43 200.34,183.59 200.64,183.74 200.94,183.88 201.25,184.03 201.55,184.18 201.86,184.33 202.16,184.49 202.46,184.67 202.77,184.85 203.07,185.05 203.37,185.27 203.68,185.51 203.98,185.77 204.29,186.05 204.59,186.34 204.89,186.66 205.20,187.00 205.50,187.35 205.81,187.73 206.11,188.11 206.41,188.51 206.72,188.91 207.02,189.31 207.32,189.72 207.63,190.12 207.93,190.50 208.24,190.88 208.54,191.23 208.84,191.57 209.15,191.87 209.45,192.15 209.76,192.41 210.06,192.63 210.36,192.82 210.67,192.98 210.97,193.12 211.28,193.23 211.58,193.33 211.88,193.40 212.19,193.45 212.49,193.50 212.80,193.53 213.10,193.55 213.40,193.57 213.71,193.59 214.01,193.60 214.31,193.60 214.62,193.61 214.92,193.61 215.23,193.62 215.53,193.62 215.83,193.63 216.14,193.63 216.44,193.63 216.75,193.63 217.05,193.64 217.35,193.64 217.66,193.64 217.96,193.64 218.27,193.64 218.57,193.65 218.87,193.65 219.18,193.65 219.48,193.65 219.78,193.65 220.09,193.65 220.39,193.65 220.70,193.66 221.00,193.66" fill="none" stroke="#f08a48" stroke-width="1.0" stroke-linejoin="round" />
<polyline points="56.80,205.30 57.05,205.14 57.30,205.12 57.55,205.30 57.80,205.44 58.05,205.36 58.31,205.20 58.56,205.22 58.81,205.41 59.06,205.53 59.31,205.44 59.56,205.29 59.81,205.32 60.06,205.52 60.31,205.62 60.56,205.50 60.81,205.36 61.07,205.40 61.32,205.59 61.57,205.66 61.82,205.52 62.07,205.36 62.32,205.41 62.57,205.58 62.82,205.61 63.07,205.44 63.32,205.29 63.57,205.34 63.83,205.49 64.08,205.48 64.33,205.28 64.58,205.13 64.83,205.18 65.08,205.31 65.33,205.27 65.58,205.04 65.83,204.88 66.08,204.92 66.33,205.00 66.59,204.88 66.84,204.58 67.09,204.33 67.34,204.24 67.59,204.11 67.84,203.74 68.09,203.20 68.34,202.86 68.59,202.95 68.84,203.30 69.09,203.58 69.35,203.74 69.60,203.97 69.85,204.33 70.10,204.62 70.35,204.66 70.60,204.57 70.85,204.61 71.10,204.81 71.35,204.97 71.60,204.90 71.85,204.75 72.11,204.76 72.36,204.93 72.61,205.04 72.86,204.94 73.11,204.77 73.36,204.78 73.61,204.94 73.86,205.02 74.11,204.88 74.36,204.71 74.61,204.72 74.87,204.88 75.12,204.92 75.37,204.75 75.62,204.56 75.87,204.57 76.12,204.69 76.37,204.68 76.62,204.44 76.87,204.21 77.12,204.16 77.37,204.19 77.63,204.02 77.88,203.61 78.13,203.17 78.38,202.83 78.63,202.42 78.88,201.66 79.13,200.47 79.38,199.13 79.63,197.98 79.88,197.30 80.13,197.31 80.39,198.02 80.64,199.20 80.89,200.53 81.14,201.67 81.39,202.39 81.64,202.76 81.89,203.10 82.14,203.54 82.39,203.91 82.64,204.03 82.89,203.98 83.15,204.02 83.40,204.24 83.65,204.42 83.90,204.37 84.15,204.20 84.40,204.16 84.65,204.29 84.90,204.36 85.15,204.19 85.40,203.90 85.65,203.72 85.91,203.67 86.16,203.47 86.41,202.95 86.66,202.24 86.91,201.60 87.16,201.11 87.41,200.79 87.66,200.73 87.91,201.06 88.16,201.75 88.41,202.53 88.67,203.08 88.92,203.30 89.17,203.39 89.42,203.61 89.67,203.90 89.92,204.00 90.17,203.87 90.42,203.70 90.67,203.71 90.92,203.79 91.17,203.67 91.43,203.30 91.68,202.91 91.93,202.64 92.18,202.37 92.43,201.83 92.68,201.02 92.93,200.25 93.18,199.79 93.43,199.68 93.68,199.77 93.93,200.05 94.19,200.61 94.44,201.42 94.69,202.22 94.94,202.72 95.19,202.97 95.44,203.25 95.69,203.66 95.94,204.03 96.19,204.16 96.44,204.13 96.69,204.20 96.95,204.45 97.20,204.67 97.45,204.67 97.70,204.55 97.95,204.57 98.20,204.77 98.45,204.93 98.70,204.88 98.95,204.73 99.20,204.75 99.45,204.94 99.71,205.07 99.96,204.98 100.21,204.83 100.46,204.85 100.71,205.04 100.96,205.14 101.21,205.03 101.46,204.88 101.71,204.92 101.96,205.11 102.21,205.19 102.47,205.06 102.72,204.92 102.97,204.97 103.22,205.16 103.47,205.22 103.72,205.07 103.97,204.94 104.22,205.01 104.47,205.20 104.72,205.23 104.97,205.08 105.23,204.96 105.48,205.05 105.73,205.23 105.98,205.24 106.23,205.08 106.48,204.97 106.73,205.08 106.98,205.25 107.23,205.24 107.48,205.07 107.73,204.98 107.99,205.11 108.24,205.27 108.49,205.24 108.74,205.07 108.99,204.99 109.24,205.13 109.49,205.28 109.74,205.24 109.99,205.06 110.24,205.01 110.49,205.16 110.75,205.30 111.00,205.23 111.25,205.05 111.50,205.02 111.75,205.18 112.00,205.31" fill="none" stroke="#f29f68" stroke-width="0.95" stroke-linejoin="round" />
<polyline points="114.30,204.94 114.61,204.82 114.92,204.92 115.23,205.07 115.54,205.00 115.85,204.78 116.16,204.68 116.47,204.78 116.78,204.82 117.10,204.60 117.41,204.30 117.72,204.17 118.03,204.18 118.34,204.05 118.65,203.67 118.96,203.32 119.27,203.19 119.58,203.15 119.89,202.94 120.20,202.58 120.51,202.37 120.82,202.43 121.13,202.52 121.44,202.44 121.75,202.30 122.07,202.39 122.38,202.69 122.69,202.92 123.00,202.95 123.31,202.97 123.62,203.22 123.93,203.57 124.24,203.73 124.55,203.69 124.86,203.71 125.17,203.95 125.48,204.19 125.79,204.20 126.10,204.06 126.41,204.08 126.72,204.28 127.04,204.41 127.35,204.31 127.66,204.16 127.97,204.22 128.28,204.42 128.59,204.47 128.90,204.32 129.21,204.21 129.52,204.33 129.83,204.51 130.14,204.49 130.45,204.31 130.76,204.26 131.07,204.43 131.38,204.57 131.69,204.48 132.01,204.31 132.32,204.34 132.63,204.53 132.94,204.61 133.25,204.47 133.56,204.34 133.87,204.43 134.18,204.62 134.49,204.63 134.80,204.45 135.11,204.38 135.42,204.53 135.73,204.69 136.04,204.62 136.35,204.45 136.66,204.45 136.98,204.63 137.29,204.74 137.60,204.61 137.91,204.46 138.22,204.53 138.53,204.73 138.84,204.76 139.15,204.59 139.46,204.50 139.77,204.63 140.08,204.80 140.39,204.76 140.70,204.58 141.01,204.55 141.32,204.73 141.63,204.85 141.95,204.75 142.26,204.59 142.57,204.63 142.88,204.82 143.19,204.88 143.50,204.73 143.81,204.61 144.12,204.72 144.43,204.90 144.74,204.89 145.05,204.71 145.36,204.66 145.67,204.82 145.98,204.96 146.29,204.88 146.60,204.71 146.92,204.72 147.23,204.91 147.54,205.00 147.85,204.86 148.16,204.72 148.47,204.81 148.78,205.00 149.09,205.01 149.40,204.84 149.71,204.76 150.02,204.90 150.33,205.06 150.64,205.00 150.95,204.83 151.26,204.81 151.57,205.00 151.89,205.10 152.20,204.98 152.51,204.83 152.82,204.89 153.13,205.08 153.44,205.12 153.75,204.96 154.06,204.86 154.37,204.98 154.68,205.15 154.99,205.12 155.30,204.94 155.61,204.90 155.92,205.07 156.23,205.20 156.55,205.10 156.86,204.94 157.17,204.97 157.48,205.16 157.79,205.23 158.10,205.08 158.41,204.95 158.72,205.05 159.03,205.24 159.34,205.23 159.65,205.06 159.96,204.99 160.27,205.14 160.58,205.29 160.89,205.22 161.20,205.04 161.51,205.05 161.83,205.23 162.14,205.33 162.45,205.20 162.76,205.05 163.07,205.13 163.38,205.32 163.69,205.34 164.00,205.17" fill="none" stroke="#f29f68" stroke-width="0.95" stroke-linejoin="round" />
<polyline points="166.30,204.88 166.60,204.88 166.91,204.88 167.21,204.87 167.52,204.87 167.82,204.87 168.12,204.87 168.43,204.87 168.73,204.87 169.04,204.87 169.34,204.87 169.64,204.87 169.95,204.87 170.25,204.87 170.55,204.87 170.86,204.87 171.16,204.87 171.47,204.87 171.77,204.86 172.07,204.86 172.38,204.86 172.68,204.86 172.99,204.86 173.29,204.86 173.59,204.86 173.90,204.86 174.20,204.86 174.50,204.86 174.81,204.85 175.11,204.85 175.42,204.85 175.72,204.85 176.02,204.85 176.33,204.84 176.63,204.84 176.94,204.83 177.24,204.82 177.54,204.81 177.85,204.80 178.15,204.78 178.46,204.76 178.76,204.73 179.06,204.69 179.37,204.64 179.67,204.59 179.98,204.51 180.28,204.43 180.58,204.33 180.89,204.22 181.19,204.08 181.49,203.93 181.80,203.77 182.10,203.59 182.41,203.39 182.71,203.17 183.01,202.95 183.32,202.71 183.62,202.47 183.93,202.21 184.23,201.96 184.53,201.70 184.84,201.44 185.14,201.18 185.44,200.92 185.75,200.68 186.05,200.44 186.36,200.21 186.66,199.99 186.96,199.78 187.27,199.59 187.57,199.40 187.88,199.23 188.18,199.07 188.48,198.92 188.79,198.78 189.09,198.66 189.40,198.54 189.70,198.43 190.00,198.32 190.31,198.22 190.61,198.13 190.92,198.04 191.22,197.95 191.52,197.85 191.83,197.76 192.13,197.66 192.43,197.55 192.74,197.44 193.04,197.31 193.35,197.17 193.65,197.02 193.95,196.85 194.26,196.67 194.56,196.48 194.87,196.28 195.17,196.10 195.47,195.93 195.78,195.80 196.08,195.73 196.39,195.72 196.69,195.77 196.99,195.88 197.30,196.04 197.60,196.22 197.90,196.42 198.21,196.62 198.51,196.81 198.82,196.99 199.12,197.16 199.42,197.32 199.73,197.46 200.03,197.60 200.34,197.73 200.64,197.85 200.94,197.97 201.25,198.09 201.55,198.22 201.86,198.35 202.16,198.48 202.46,198.63 202.77,198.79 203.07,198.96 203.37,199.14 203.68,199.34 203.98,199.55 204.29,199.79 204.59,200.04 204.89,200.30 205.20,200.58 205.50,200.88 205.81,201.19 206.11,201.50 206.41,201.83 206.72,202.16 207.02,202.50 207.32,202.83 207.63,203.16 207.93,203.48 208.24,203.78 208.54,204.08 208.84,204.35 209.15,204.60 209.45,204.83 209.76,205.04 210.06,205.22 210.36,205.38 210.67,205.51 210.97,205.62 211.28,205.71 211.58,205.79 211.88,205.85 212.19,205.90 212.49,205.93 212.80,205.96 213.10,205.98 213.40,205.99 213.71,206.01 214.01,206.01 214.31,206.02 214.62,206.03 214.92,206.03 215.23,206.03 215.53,206.04 215.83,206.04 216.14,206.04 216.44,206.04 216.75,206.05 217.05,206.05 217.35,206.05 217.66,206.05 217.96,206.05 218.27,206.05 218.57,206.06 218.87,206.06 219.18,206.06 219.48,206.06 219.78,206.06 220.09,206.06 220.39,206.06 220.70,206.06 221.00,206.06" fill="none" stroke="#f29f68" stroke-width="1.0" stroke-linejoin="round" />
<polyline points="56.80,215.78 57.05,215.71 57.30,215.86 57.55,216.03 57.80,216.00 58.05,215.83 58.31,215.80 58.56,215.97 58.81,216.13 59.06,216.08 59.31,215.92 59.56,215.91 59.81,216.08 60.06,216.23 60.31,216.16 60.56,216.00 60.81,216.00 61.07,216.18 61.32,216.29 61.57,216.19 61.82,216.03 62.07,216.03 62.32,216.20 62.57,216.28 62.82,216.15 63.07,215.97 63.32,215.98 63.57,216.14 63.83,216.19 64.08,216.03 64.33,215.85 64.58,215.87 64.83,216.02 65.08,216.04 65.33,215.86 65.58,215.69 65.83,215.71 66.08,215.85 66.33,215.84 66.59,215.62 66.84,215.43 67.09,215.43 67.34,215.50 67.59,215.38 67.84,215.05 68.09,214.77 68.34,214.75 68.59,214.89 68.84,214.97 69.09,214.95 69.35,215.01 69.60,215.25 69.85,215.50 70.10,215.54 70.35,215.42 70.60,215.38 70.85,215.54 71.10,215.71 71.35,215.67 71.60,215.50 71.85,215.45 72.11,215.60 72.36,215.74 72.61,215.67 72.86,215.49 73.11,215.45 73.36,215.60 73.61,215.71 73.86,215.62 74.11,215.43 74.36,215.39 74.61,215.54 74.87,215.63 75.12,215.50 75.37,215.30 75.62,215.26 75.87,215.39 76.12,215.43 76.37,215.25 76.62,215.00 76.87,214.93 77.12,214.99 77.37,214.91 77.63,214.57 77.88,214.16 78.13,213.85 78.38,213.54 78.63,212.90 78.88,211.77 79.13,210.20 79.38,208.29 79.63,206.11 79.88,204.33 80.13,204.26 80.39,206.03 80.64,208.46 80.89,210.57 81.14,211.97 81.39,212.76 81.64,213.32 81.89,213.89 82.14,214.41 82.39,214.66 82.64,214.68 82.89,214.73 83.15,214.96 83.40,215.21 83.65,215.26 83.90,215.13 84.15,215.10 84.40,215.26 84.65,215.44 84.90,215.40 85.15,215.22 85.40,215.15 85.65,215.28 85.91,215.38 86.16,215.25 86.41,214.98 86.66,214.82 86.91,214.83 87.16,214.81 87.41,214.63 87.66,214.47 87.91,214.57 88.16,214.89 88.41,215.15 88.67,215.16 88.92,215.07 89.17,215.13 89.42,215.33 89.67,215.44 89.92,215.33 90.17,215.15 90.42,215.15 90.67,215.28 90.92,215.30 91.17,215.10 91.43,214.84 91.68,214.75 91.93,214.75 92.18,214.58 92.43,214.15 92.68,213.66 92.93,213.35 93.18,213.21 93.43,213.08 93.68,212.98 93.93,213.11 94.19,213.56 94.44,214.11 94.69,214.46 94.94,214.56 95.19,214.66 95.44,214.93 95.69,215.23 95.94,215.33 96.19,215.24 96.44,215.21 96.69,215.38 96.95,215.59 97.20,215.60 97.45,215.46 97.70,215.41 97.95,215.56 98.20,215.73 98.45,215.71 98.70,215.55 98.95,215.50 99.20,215.65 99.45,215.81 99.71,215.75 99.96,215.58 100.21,215.55 100.46,215.71 100.71,215.85 100.96,215.77 101.21,215.60 101.46,215.59 101.71,215.75 101.96,215.87 102.21,215.78 102.47,215.61 102.72,215.61 102.97,215.79 103.22,215.89 103.47,215.78 103.72,215.61 103.97,215.64 104.22,215.81 104.47,215.90 104.72,215.77 104.97,215.62 105.23,215.66 105.48,215.84 105.73,215.90 105.98,215.76 106.23,215.62 106.48,215.68 106.73,215.86 106.98,215.90 107.23,215.75 107.48,215.62 107.73,215.70 107.99,215.88 108.24,215.90 108.49,215.74 108.74,215.62 108.99,215.72 109.24,215.89 109.49,215.89 109.74,215.72 109.99,215.62 110.24,215.74 110.49,215.90 110.75,215.89 111.00,215.71 111.25,215.63 111.50,215.76 111.75,215.92 112.00,215.88" fill="none" stroke="#f5b68b" stroke-width="0.95" stroke-linejoin="round" />
<polyline points="114.30,215.44 114.61,215.50 114.92,215.67 115.23,215.68 115.54,215.48 115.85,215.35 116.16,215.44 116.47,215.54 116.78,215.42 117.10,215.15 117.41,215.01 117.72,215.05 118.03,215.02 118.34,214.75 118.65,214.40 118.96,214.26 119.27,214.26 119.58,214.14 119.89,213.81 120.20,213.54 120.51,213.54 120.82,213.63 121.13,213.57 121.44,213.39 121.75,213.36 122.07,213.59 122.38,213.83 122.69,213.86 123.00,213.81 123.31,213.97 123.62,214.29 123.93,214.50 124.24,214.48 124.55,214.45 124.86,214.63 125.17,214.89 125.48,214.96 125.79,214.84 126.10,214.80 126.41,214.97 126.72,215.15 127.04,215.10 127.35,214.93 127.66,214.93 127.97,215.12 128.28,215.23 128.59,215.11 128.90,214.96 129.21,215.02 129.52,215.22 129.83,215.25 130.14,215.09 130.45,214.99 130.76,215.12 131.07,215.29 131.38,215.26 131.69,215.08 132.01,215.04 132.32,215.22 132.63,215.35 132.94,215.25 133.25,215.08 133.56,215.12 133.87,215.31 134.18,215.38 134.49,215.23 134.80,215.10 135.11,215.21 135.42,215.39 135.73,215.39 136.04,215.21 136.35,215.15 136.66,215.30 136.98,215.45 137.29,215.38 137.60,215.20 137.91,215.21 138.22,215.40 138.53,215.49 138.84,215.36 139.15,215.21 139.46,215.29 139.77,215.48 140.08,215.51 140.39,215.34 140.70,215.25 141.01,215.39 141.32,215.55 141.63,215.50 141.95,215.32 142.26,215.30 142.57,215.48 142.88,215.60 143.19,215.48 143.50,215.32 143.81,215.38 144.12,215.57 144.43,215.62 144.74,215.46 145.05,215.35 145.36,215.47 145.67,215.64 145.98,215.62 146.29,215.44 146.60,215.39 146.92,215.56 147.23,215.69 147.54,215.60 147.85,215.43 148.16,215.46 148.47,215.65 148.78,215.72 149.09,215.58 149.40,215.45 149.71,215.54 150.02,215.73 150.33,215.73 150.64,215.55 150.95,215.48 151.26,215.63 151.57,215.78 151.89,215.72 152.20,215.54 152.51,215.54 152.82,215.72 153.13,215.82 153.44,215.69 153.75,215.54 154.06,215.61 154.37,215.80 154.68,215.83 154.99,215.67 155.30,215.57 155.61,215.70 155.92,215.87 156.23,215.82 156.55,215.65 156.86,215.61 157.17,215.79 157.48,215.91 157.79,215.80 158.10,215.64 158.41,215.68 158.72,215.87 159.03,215.93 159.34,215.77 159.65,215.65 159.96,215.76 160.27,215.94 160.58,215.93 160.89,215.75 161.20,215.69 161.51,215.85 161.83,216.00 162.14,215.91 162.45,215.74 162.76,215.75 163.07,215.94 163.38,216.02 163.69,215.88 164.00,215.74" fill="none" stroke="#f5b68b" stroke-width="0.95" stroke-linejoin="round" />
<polyline points="166.30,215.48 166.60,215.48 166.91,215.48 167.21,215.48 167.52,215.48 167.82,215.48 168.12,215.48 168.43,215.48 168.73,215.48 169.04,215.48 169.34,215.48 169.64,215.48 169.95,215.48 170.25,215.48 170.55,215.48 170.86,215.48 171.16,215.48 171.47,215.48 171.77,215.47 172.07,215.47 172.38,215.47 172.68,215.47 172.99,215.47 173.29,215.47 173.59,215.47 173.90,215.47 174.20,215.47 174.50,215.47 174.81,215.47 175.11,215.47 175.42,215.46 175.72,215.46 176.02,215.46 176.33,215.46 176.63,215.46 176.94,215.45 177.24,215.45 177.54,215.44 177.85,215.43 178.15,215.42 178.46,215.40 178.76,215.38 179.06,215.35 179.37,215.32 179.67,215.27 179.98,215.22 180.28,215.16 180.58,215.09 180.89,215.01 181.19,214.91 181.49,214.81 181.80,214.69 182.10,214.56 182.41,214.41 182.71,214.26 183.01,214.10 183.32,213.93 183.62,213.75 183.93,213.57 184.23,213.39 184.53,213.20 184.84,213.01 185.14,212.83 185.44,212.65 185.75,212.47 186.05,212.30 186.36,212.14 186.66,211.98 186.96,211.83 187.27,211.69 187.57,211.56 187.88,211.43 188.18,211.32 188.48,211.21 188.79,211.11 189.09,211.02 189.40,210.94 189.70,210.86 190.00,210.78 190.31,210.71 190.61,210.64 190.92,210.58 191.22,210.51 191.52,210.45 191.83,210.38 192.13,210.31 192.43,210.23 192.74,210.15 193.04,210.06 193.35,209.96 193.65,209.85 193.95,209.72 194.26,209.59 194.56,209.46 194.87,209.32 195.17,209.19 195.47,209.07 195.78,208.98 196.08,208.93 196.39,208.92 196.69,208.96 196.99,209.04 197.30,209.15 197.60,209.28 197.90,209.42 198.21,209.57 198.51,209.71 198.82,209.84 199.12,209.97 199.42,210.08 199.73,210.19 200.03,210.29 200.34,210.38 200.64,210.48 200.94,210.57 201.25,210.66 201.55,210.76 201.86,210.86 202.16,210.96 202.46,211.08 202.77,211.20 203.07,211.33 203.37,211.47 203.68,211.63 203.98,211.79 204.29,211.97 204.59,212.16 204.89,212.37 205.20,212.58 205.50,212.81 205.81,213.04 206.11,213.28 206.41,213.53 206.72,213.78 207.02,214.03 207.32,214.27 207.63,214.52 207.93,214.75 208.24,214.98 208.54,215.20 208.84,215.40 209.15,215.59 209.45,215.76 209.76,215.91 210.06,216.04 210.36,216.16 210.67,216.26 210.97,216.34 211.28,216.41 211.58,216.47 211.88,216.51 212.19,216.54 212.49,216.57 212.80,216.59 213.10,216.61 213.40,216.62 213.71,216.63 214.01,216.63 214.31,216.64 214.62,216.64 214.92,216.65 215.23,216.65 215.53,216.65 215.83,216.65 216.14,216.66 216.44,216.66 216.75,216.66 217.05,216.66 217.35,216.66 217.66,216.66 217.96,216.67 218.27,216.67 218.57,216.67 218.87,216.67 219.18,216.67 219.48,216.67 219.78,216.67 220.09,216.67 220.39,216.67 220.70,216.67 221.00,216.67" fill="none" stroke="#f5b68b" stroke-width="1.0" stroke-linejoin="round" />
<polyline points="56.80,227.20 57.05,227.31 57.30,227.50 57.55,227.51 57.80,227.36 58.05,227.28 58.31,227.41 58.56,227.59 58.81,227.59 59.06,227.44 59.31,227.38 59.56,227.53 59.81,227.70 60.06,227.68 60.31,227.52 60.56,227.47 60.81,227.63 61.07,227.78 61.32,227.73 61.57,227.56 61.82,227.52 62.07,227.67 62.32,227.80 62.57,227.71 62.82,227.52 63.07,227.49 63.32,227.63 63.57,227.73 63.83,227.61 64.08,227.41 64.33,227.39 64.58,227.53 64.83,227.60 65.08,227.46 65.33,227.26 65.58,227.24 65.83,227.39 66.08,227.43 66.33,227.26 66.59,227.05 66.84,227.03 67.09,227.14 67.34,227.12 67.59,226.87 67.84,226.59 68.09,226.51 68.34,226.59 68.59,226.61 68.84,226.53 69.09,226.51 69.35,226.71 69.60,226.98 69.85,227.08 70.10,226.97 70.35,226.89 70.60,227.01 70.85,227.20 71.10,227.22 71.35,227.06 71.60,226.96 71.85,227.08 72.11,227.25 72.36,227.23 72.61,227.05 72.86,226.96 73.11,227.08 73.36,227.23 73.61,227.18 73.86,226.99 74.11,226.91 74.36,227.04 74.61,227.16 74.87,227.08 75.12,226.87 75.37,226.80 75.62,226.91 75.87,227.00 76.12,226.87 76.37,226.63 76.62,226.52 76.87,226.59 77.12,226.59 77.37,226.33 77.63,225.96 77.88,225.68 78.13,225.48 78.38,225.07 78.63,224.21 78.88,222.93 79.13,221.26 79.38,218.91 79.63,215.66 79.88,212.70 80.13,212.67 80.39,215.66 80.64,219.14 80.89,221.66 81.14,223.16 81.39,224.09 81.64,224.87 81.89,225.55 82.14,225.96 82.39,226.07 82.64,226.13 82.89,226.36 83.15,226.66 83.40,226.78 83.65,226.69 83.90,226.64 84.15,226.78 84.40,227.00 84.65,227.04 84.90,226.90 85.15,226.82 85.40,226.95 85.65,227.13 85.91,227.13 86.16,226.97 86.41,226.89 86.66,227.03 86.91,227.19 87.16,227.16 87.41,226.98 87.66,226.92 87.91,227.05 88.16,227.20 88.41,227.13 88.67,226.95 88.92,226.89 89.17,227.02 89.42,227.14 89.67,227.04 89.92,226.84 90.17,226.77 90.42,226.89 90.67,226.96 90.92,226.79 91.17,226.53 91.43,226.42 91.68,226.44 91.93,226.37 92.18,226.02 92.43,225.57 92.68,225.23 92.93,225.03 93.18,224.79 93.43,224.49 93.68,224.39 93.93,224.68 94.19,225.23 94.44,225.67 94.69,225.86 94.94,225.97 95.19,226.24 95.44,226.58 95.69,226.76 95.94,226.71 96.19,226.66 96.44,226.80 96.69,227.03 96.95,227.10 97.20,226.98 97.45,226.89 97.70,227.01 97.95,227.20 98.20,227.23 98.45,227.08 98.70,226.99 98.95,227.11 99.20,227.29 99.45,227.28 99.71,227.12 99.96,227.04 100.21,227.17 100.46,227.34 100.71,227.31 100.96,227.14 101.21,227.07 101.46,227.21 101.71,227.37 101.96,227.32 102.21,227.14 102.47,227.09 102.72,227.25 102.97,227.39 103.22,227.32 103.47,227.14 103.72,227.11 103.97,227.28 104.22,227.40 104.47,227.31 104.72,227.14 104.97,227.13 105.23,227.30 105.48,227.41 105.73,227.30 105.98,227.14 106.23,227.15 106.48,227.33 106.73,227.42 106.98,227.29 107.23,227.13 107.48,227.17 107.73,227.35 107.99,227.42 108.24,227.28 108.49,227.13 108.74,227.18 108.99,227.36 109.24,227.42 109.49,227.27 109.74,227.13 109.99,227.20 110.24,227.38 110.49,227.41 110.75,227.25 111.00,227.13 111.25,227.22 111.50,227.39 111.75,227.41 112.00,227.24" fill="none" stroke="#f8c9aa" stroke-width="0.95" stroke-linejoin="round" />
<polyline points="114.30,226.98 114.61,227.16 114.92,227.25 115.23,227.10 115.54,226.96 115.85,227.03 116.16,227.21 116.47,227.21 116.78,227.03 117.10,226.92 117.41,227.04 117.72,227.18 118.03,227.10 118.34,226.89 118.65,226.84 118.96,226.98 119.27,227.06 119.58,226.91 119.89,226.72 120.20,226.75 120.51,226.92 120.82,226.95 121.13,226.78 121.44,226.67 121.75,226.79 122.07,226.97 122.38,226.96 122.69,226.80 123.00,226.77 123.31,226.96 123.62,227.11 123.93,227.04 124.24,226.89 124.55,226.93 124.86,227.13 125.17,227.21 125.48,227.07 125.79,226.95 126.10,227.05 126.41,227.24 126.72,227.24 127.04,227.06 127.35,226.99 127.66,227.14 127.97,227.30 128.28,227.22 128.59,227.04 128.90,227.04 129.21,227.23 129.52,227.32 129.83,227.19 130.14,227.04 130.45,227.11 130.76,227.30 131.07,227.32 131.38,227.15 131.69,227.05 132.01,227.19 132.32,227.35 132.63,227.30 132.94,227.12 133.25,227.09 133.56,227.27 133.87,227.38 134.18,227.27 134.49,227.11 134.80,227.15 135.11,227.34 135.42,227.39 135.73,227.24 136.04,227.12 136.35,227.23 136.66,227.40 136.98,227.38 137.29,227.20 137.60,227.15 137.91,227.31 138.22,227.45 138.53,227.36 138.84,227.18 139.15,227.20 139.46,227.39 139.77,227.46 140.08,227.32 140.39,227.18 140.70,227.27 141.01,227.45 141.32,227.46 141.63,227.28 141.95,227.20 142.26,227.35 142.57,227.50 142.88,227.44 143.19,227.26 143.50,227.25 143.81,227.43 144.12,227.53 144.43,227.40 144.74,227.25 145.05,227.31 145.36,227.50 145.67,227.53 145.98,227.37 146.29,227.26 146.60,227.38 146.92,227.55 147.23,227.52 147.54,227.33 147.85,227.29 148.16,227.46 148.47,227.59 148.78,227.48 149.09,227.32 149.40,227.35 149.71,227.54 150.02,227.60 150.33,227.45 150.64,227.32 150.95,227.42 151.26,227.60 151.57,227.59 151.89,227.41 152.20,227.35 152.51,227.50 152.82,227.65 153.13,227.56 153.44,227.39 153.75,227.39 154.06,227.58 154.37,227.67 154.68,227.53 154.99,227.38 155.30,227.46 155.61,227.65 155.92,227.66 156.23,227.49 156.55,227.40 156.86,227.54 157.17,227.70 157.48,227.64 157.79,227.46 158.10,227.44 158.41,227.62 158.72,227.73 159.03,227.61 159.34,227.45 159.65,227.50 159.96,227.69 160.27,227.73 160.58,227.57 160.89,227.46 161.20,227.57 161.51,227.75 161.83,227.72 162.14,227.54 162.45,227.49 162.76,227.65 163.07,227.79 163.38,227.69 163.69,227.52 164.00,227.54" fill="none" stroke="#f8c9aa" stroke-width="0.95" stroke-linejoin="round" />
<polyline points="166.30,226.99 166.60,226.99 166.91,226.99 167.21,226.99 167.52,226.99 167.82,226.99 168.12,226.99 168.43,226.99 168.73,226.99 169.04,226.99 169.34,226.99 169.64,226.99 169.95,226.99 170.25,226.99 170.55,226.99 170.86,226.99 171.16,226.99 171.47,226.99 171.77,226.99 172.07,226.99 172.38,226.99 172.68,226.99 172.99,226.98 173.29,226.98 173.59,226.98 173.90,226.98 174.20,226.98 174.50,226.98 174.81,226.98 175.11,226.98 175.42,226.98 175.72,226.98 176.02,226.98 176.33,226.98 176.63,226.98 176.94,226.97 177.24,226.97 177.54,226.97 177.85,226.96 178.15,226.95 178.46,226.95 178.76,226.93 179.06,226.92 179.37,226.90 179.67,226.88 179.98,226.85 180.28,226.82 180.58,226.78 180.89,226.73 181.19,226.68 181.49,226.62 181.80,226.56 182.10,226.49 182.41,226.41 182.71,226.32 183.01,226.24 183.32,226.14 183.62,226.05 183.93,225.95 184.23,225.85 184.53,225.75 184.84,225.64 185.14,225.54 185.44,225.44 185.75,225.35 186.05,225.25 186.36,225.16 186.66,225.08 186.96,225.00 187.27,224.92 187.57,224.85 187.88,224.78 188.18,224.72 188.48,224.66 188.79,224.61 189.09,224.56 189.40,224.51 189.70,224.47 190.00,224.43 190.31,224.39 190.61,224.35 190.92,224.32 191.22,224.28 191.52,224.24 191.83,224.21 192.13,224.17 192.43,224.13 192.74,224.08 193.04,224.03 193.35,223.98 193.65,223.92 193.95,223.85 194.26,223.78 194.56,223.71 194.87,223.63 195.17,223.56 195.47,223.50 195.78,223.45 196.08,223.42 196.39,223.42 196.69,223.44 196.99,223.48 197.30,223.55 197.60,223.62 197.90,223.70 198.21,223.78 198.51,223.86 198.82,223.94 199.12,224.01 199.42,224.08 199.73,224.14 200.03,224.20 200.34,224.26 200.64,224.32 200.94,224.37 201.25,224.43 201.55,224.50 201.86,224.56 202.16,224.63 202.46,224.71 202.77,224.79 203.07,224.88 203.37,224.97 203.68,225.07 203.98,225.18 204.29,225.30 204.59,225.42 204.89,225.56 205.20,225.69 205.50,225.84 205.81,225.98 206.11,226.14 206.41,226.29 206.72,226.44 207.02,226.60 207.32,226.75 207.63,226.89 207.93,227.04 208.24,227.17 208.54,227.30 208.84,227.42 209.15,227.53 209.45,227.63 209.76,227.72 210.06,227.80 210.36,227.87 210.67,227.93 210.97,227.98 211.28,228.02 211.58,228.05 211.88,228.08 212.19,228.10 212.49,228.12 212.80,228.13 213.10,228.14 213.40,228.15 213.71,228.15 214.01,228.16 214.31,228.16 214.62,228.16 214.92,228.17 215.23,228.17 215.53,228.17 215.83,228.17 216.14,228.17 216.44,228.18 216.75,228.18 217.05,228.18 217.35,228.18 217.66,228.18 217.96,228.18 218.27,228.18 218.57,228.18 218.87,228.18 219.18,228.18 219.48,228.18 219.78,228.18 220.09,228.18 220.39,228.19 220.70,228.19 221.00,228.19" fill="none" stroke="#f8c9aa" stroke-width="1.0" stroke-linejoin="round" />
<path d="M112.0,236.2 L113.0,233.8 M113.19999999999999,236.2 L114.19999999999999,233.8" stroke="#999" stroke-width="0.3"/>
<path d="M164.0,236.2 L165.0,233.8 M165.2,236.2 L166.2,233.8" stroke="#999" stroke-width="0.3"/>
<text x="66.2" y="173.2" font-size="2.7" fill="#2e2e2e" stroke="#2e2e2e" stroke-width="0.05" text-anchor="middle" font-weight="normal" transform="matrix(1 0 0 1.28 0 -48.496)" >Mn=O</text>
<text x="80" y="173.2" font-size="2.7" fill="#2e2e2e" stroke="#2e2e2e" stroke-width="0.05" text-anchor="middle" font-weight="normal" transform="matrix(1 0 0 1.28 0 -48.496)" >O–Mn–O</text>
<text x="96" y="170.3" font-size="2.7" fill="#2e2e2e" stroke="#2e2e2e" stroke-width="0.05" text-anchor="middle" font-weight="normal" transform="matrix(1 0 0 1.28 0 -47.684)" >Mn–O–H</text>
<line x1="89.5" y1="171.3" x2="87.6" y2="174.6" stroke="#4a6aa0" stroke-width="0.35" />
<text x="121.5" y="171.0" font-size="2.7" fill="#2e2e2e" stroke="#2e2e2e" stroke-width="0.05" text-anchor="middle" font-weight="normal" transform="matrix(1 0 0 1.28 0 -47.880)" >H<tspan dy="0.8" font-size="1.8">2</tspan><tspan dy="-0.8">O</tspan></text>
<text x="196.3" y="162.5" font-size="2.7" fill="#2e2e2e" stroke="#2e2e2e" stroke-width="0.05" text-anchor="middle" font-weight="normal" transform="matrix(1 0 0 1.28 0 -45.500)" >H<tspan dy="0.8" font-size="1.8">2</tspan><tspan dy="-0.8">O</tspan></text>
<text x="133" y="165.8" font-size="2.75" fill="#2e2e2e" stroke="#2e2e2e" stroke-width="0.05" text-anchor="start" font-weight="normal" transform="matrix(1 0 0 1.28 0 -46.424)" >MnO<tspan dy="0.8" font-size="1.8">2-x</tspan><tspan dy="-0.8"> in pH</tspan><tspan dy="0.8" font-size="1.8">surface</tspan><tspan dy="-0.8"> 7</tspan></text>
<text x="223" y="183.0" font-size="2.7" fill="#2e2e2e" stroke="#2e2e2e" stroke-width="0.05" text-anchor="start" font-weight="normal" transform="matrix(1 0 0 1.28 0 -51.240)" >−0.3 V<tspan dy="0.8" font-size="1.8">RHE</tspan></text>
<text x="223" y="196.6" font-size="2.7" fill="#2e2e2e" stroke="#2e2e2e" stroke-width="0.05" text-anchor="start" font-weight="normal" transform="matrix(1 0 0 1.28 0 -55.048)" >−0.2 V<tspan dy="0.8" font-size="1.8">RHE</tspan></text>
<text x="223" y="209.8" font-size="2.7" fill="#2e2e2e" stroke="#2e2e2e" stroke-width="0.05" text-anchor="start" font-weight="normal" transform="matrix(1 0 0 1.28 0 -58.744)" >−0.1 V<tspan dy="0.8" font-size="1.8">RHE</tspan></text>
<text x="223" y="221.5" font-size="2.7" fill="#2e2e2e" stroke="#2e2e2e" stroke-width="0.05" text-anchor="start" font-weight="normal" transform="matrix(1 0 0 1.28 0 -62.020)" >0 V<tspan dy="0.8" font-size="1.8">RHE</tspan></text>
<text x="223" y="233.8" font-size="2.7" fill="#2e2e2e" stroke="#2e2e2e" stroke-width="0.05" text-anchor="start" font-weight="normal" transform="matrix(1 0 0 1.28 0 -65.464)" >0.1 V<tspan dy="0.8" font-size="1.8">RHE</tspan></text>
<text x="64" y="239.8" font-size="2.4" fill="#3c3c3c" stroke="#3c3c3c" stroke-width="0.05" text-anchor="middle" font-weight="normal" transform="matrix(1 0 0 1.28 0 -67.144)" >600</text>
<text x="80" y="239.8" font-size="2.4" fill="#3c3c3c" stroke="#3c3c3c" stroke-width="0.05" text-anchor="middle" font-weight="normal" transform="matrix(1 0 0 1.28 0 -67.144)" >800</text>
<text x="96" y="239.8" font-size="2.4" fill="#3c3c3c" stroke="#3c3c3c" stroke-width="0.05" text-anchor="middle" font-weight="normal" transform="matrix(1 0 0 1.28 0 -67.144)" >1,000</text>
<text x="121" y="239.8" font-size="2.4" fill="#3c3c3c" stroke="#3c3c3c" stroke-width="0.05" text-anchor="middle" font-weight="normal" transform="matrix(1 0 0 1.28 0 -67.144)" >1,800</text>
<text x="134" y="239.8" font-size="2.4" fill="#3c3c3c" stroke="#3c3c3c" stroke-width="0.05" text-anchor="middle" font-weight="normal" transform="matrix(1 0 0 1.28 0 -67.144)" >2,000</text>
<text x="147" y="239.8" font-size="2.4" fill="#3c3c3c" stroke="#3c3c3c" stroke-width="0.05" text-anchor="middle" font-weight="normal" transform="matrix(1 0 0 1.28 0 -67.144)" >2,200</text>
<text x="160" y="239.8" font-size="2.4" fill="#3c3c3c" stroke="#3c3c3c" stroke-width="0.05" text-anchor="middle" font-weight="normal" transform="matrix(1 0 0 1.28 0 -67.144)" >2,400</text>
<text x="179" y="239.8" font-size="2.4" fill="#3c3c3c" stroke="#3c3c3c" stroke-width="0.05" text-anchor="middle" font-weight="normal" transform="matrix(1 0 0 1.28 0 -67.144)" >3,000</text>
<text x="191.5" y="239.8" font-size="2.4" fill="#3c3c3c" stroke="#3c3c3c" stroke-width="0.05" text-anchor="middle" font-weight="normal" transform="matrix(1 0 0 1.28 0 -67.144)" >3,200</text>
<text x="204" y="239.8" font-size="2.4" fill="#3c3c3c" stroke="#3c3c3c" stroke-width="0.05" text-anchor="middle" font-weight="normal" transform="matrix(1 0 0 1.28 0 -67.144)" >3,400</text>
<text x="217" y="239.8" font-size="2.4" fill="#3c3c3c" stroke="#3c3c3c" stroke-width="0.05" text-anchor="middle" font-weight="normal" transform="matrix(1 0 0 1.28 0 -67.144)" >3,600</text>
<text x="139.5" y="244.2" font-size="3.1" fill="#2e2e2e" stroke="#2e2e2e" stroke-width="0.05" text-anchor="middle" font-weight="normal" transform="matrix(1 0 0 1.28 0 -68.376)" >Raman shift (cm<tspan dy="-1" font-size="2">−1</tspan><tspan dy="1">)</tspan></text>
<text x="53.6" y="199.7" font-size="2.8" fill="#2e2e2e" stroke="#2e2e2e" stroke-width="0.05" text-anchor="middle" font-weight="normal"  transform="rotate(-90 53.6 199.7) matrix(1 0 0 1.28 0 -55.916)">Intensity (a.u.)</text>
<rect x="245" y="172.8" width="76.6" height="17.6" fill="#eaf6fb"/>
<rect x="245" y="190.4" width="76.6" height="34.2" fill="#cfe8f3"/>
<line x1="245" y1="190.4" x2="321.6" y2="190.4" stroke="#aab6bd" stroke-width="0.45" />
<rect x="245" y="224.6" width="76.6" height="9" fill="#d8d8d8"/>
<line x1="253.4" y1="230.4" x2="254.6" y2="230.4" stroke="#999" stroke-width="0.35" />
<line x1="265.0" y1="230.4" x2="266.20000000000005" y2="230.4" stroke="#999" stroke-width="0.35" />
<line x1="276.4" y1="230.4" x2="277.6" y2="230.4" stroke="#999" stroke-width="0.35" />
<line x1="288.4" y1="230.4" x2="289.6" y2="230.4" stroke="#999" stroke-width="0.35" />
<line x1="299.4" y1="230.4" x2="300.6" y2="230.4" stroke="#999" stroke-width="0.35" />
<line x1="311.4" y1="230.4" x2="312.6" y2="230.4" stroke="#999" stroke-width="0.35" />
<text x="283" y="178.4" font-size="2.8" fill="#3c3c3c" stroke="#3c3c3c" stroke-width="0.05" text-anchor="middle" font-weight="normal" transform="matrix(1 0 0 1.28 0 -49.952)" >Bulk water</text>
<text x="318.5" y="196.5" font-size="2.6" fill="#333" stroke="#333" stroke-width="0.05" text-anchor="middle" font-weight="normal" transform="matrix(1 0 0 1.28 0 -55.020)" >EDL</text>
<line x1="255.5" y1="199" x2="255.5" y2="185" stroke="#2d3f66" stroke-width="0.5" />
<polygon points="254.4,185.8 256.6,185.8 255.5,183" fill="#2d3f66"/>
<path d="M271.8,224.6 C273,221.2 277,220.4 284.4,220.4 C291.8,220.4 295.8,221.2 297,224.6 Z" fill="#35456a"/>
<text x="284.5" y="223.9" font-size="1.8" fill="#cfd6e6" stroke="#cfd6e6" stroke-width="0.05" text-anchor="middle" font-weight="normal" transform="matrix(1 0 0 1.28 0 -62.692)" >BA</text>
<line x1="278.4" y1="216.5" x2="278.4" y2="221.5" stroke="#2d3b5e" stroke-width="0.5" />
<line x1="291" y1="216.5" x2="291" y2="221.5" stroke="#2d3b5e" stroke-width="0.5" />
<circle cx="254.4" cy="202.4" r="2.9" fill="#b81d28"/>
<circle cx="252.6" cy="200.6" r="1.35" fill="#fff"/>
<circle cx="253.0" cy="204.6" r="1.0" fill="#fff"/>
<circle cx="264.0" cy="210.0" r="2.7" fill="#b81d28"/>
<circle cx="265.6" cy="208.3" r="1.3" fill="#fff"/>
<circle cx="262.4" cy="211.9" r="1.3" fill="#fff"/>
<circle cx="278.4" cy="214.4" r="2.8" fill="#b81d28"/>
<circle cx="277.4" cy="213.2" r="0.8" fill="#e06a70"/>
<circle cx="291" cy="214.2" r="2.8" fill="#b81d28"/>
<circle cx="289.4" cy="212.4" r="1.3" fill="#fff"/>
<circle cx="302.8" cy="205.6" r="2.6" fill="#b81d28"/>
<circle cx="300.6" cy="204.4" r="1.6" fill="#fff"/>
<circle cx="305.0" cy="204.2" r="1.6" fill="#fff"/>
<circle cx="302.8" cy="208.4" r="1.6" fill="#fff"/>
<circle cx="302.8" cy="205.4" r="1.0" fill="#b81d28"/>
<text x="258.8" y="199.0" font-size="2.6" fill="#333" stroke="#333" stroke-width="0.05" text-anchor="start" font-weight="normal" transform="matrix(1 0 0 1.28 0 -55.720)" >−</text>
<text x="281.6" y="212.4" font-size="2.4" fill="#333" stroke="#333" stroke-width="0.05" text-anchor="start" font-weight="normal" transform="matrix(1 0 0 1.28 0 -59.472)" >−</text>
<text x="308.6" y="202.2" font-size="2.6" fill="#333" stroke="#333" stroke-width="0.05" text-anchor="start" font-weight="normal" transform="matrix(1 0 0 1.28 0 -56.616)" >+</text>
<path d="M253,207.2 Q254.2,210.6 258.2,211.8" fill="none" stroke="#2d3f66" stroke-width="0.6"/>
<polygon points="258.0,210.6 259.8,212.0 257.8,213.0" fill="#2d3f66"/>
<path d="M267.2,213.2 Q270.5,216.6 273.8,217.2" fill="none" stroke="#2d3f66" stroke-width="0.6"/>
<polygon points="273.4,216.0 275.4,217.4 273.2,218.4" fill="#2d3f66"/>
<path d="M289.4,210.6 Q291,206.4 295.4,206.0" fill="none" stroke="#2d3f66" stroke-width="0.6"/>
<polygon points="295.0,204.9 297.0,206.0 295.0,207.1" fill="#2d3f66"/>
<line x1="325.4" y1="200" x2="325.4" y2="221" stroke="#c0392b" stroke-width="0.45" />
<polygon points="324.5,220.4 326.3,220.4 325.4,222.6" fill="#c0392b"/>
<text x="327.3" y="212" font-size="2.8" fill="#333" stroke="#333" stroke-width="0.05" text-anchor="start" font-weight="normal" transform="matrix(1 0 0 1.28 0 -59.360)" font-style="italic">E</text>
<text x="323" y="230.0" font-size="2.75" fill="#333" stroke="#333" stroke-width="0.05" text-anchor="start" font-weight="normal" transform="matrix(1 0 0 1.28 0 -64.400)" >Cathode</text>
</svg>
</body></html>
